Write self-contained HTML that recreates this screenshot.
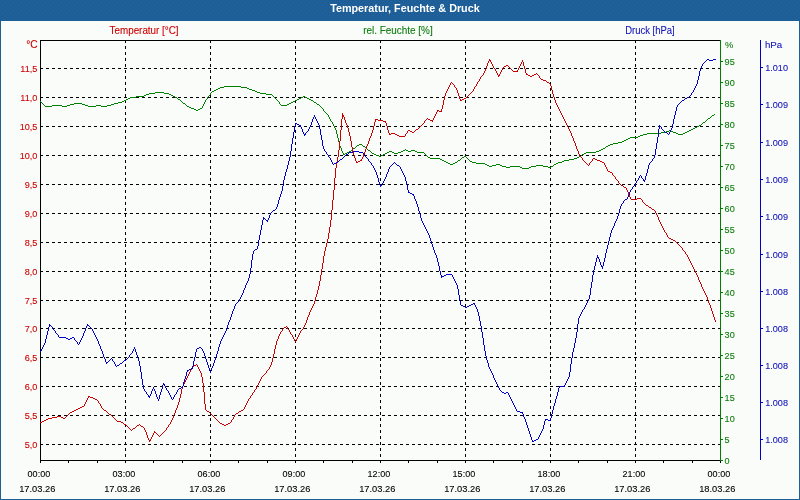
<!DOCTYPE html>
<html><head><meta charset="utf-8"><title>Temperatur, Feuchte &amp; Druck</title>
<style>html,body{margin:0;padding:0;background:#fafcfa;width:800px;height:500px;overflow:hidden}</style>
</head><body>
<svg width="800" height="500" viewBox="0 0 800 500" style="display:block">
<rect x="0" y="0" width="800" height="500" fill="#fafcfa"/>
<defs><pattern id="hp" width="4" height="4" patternUnits="userSpaceOnUse"><rect width="4" height="4" fill="#1d5e94"/><rect x="3" y="1" width="1" height="1" fill="#2663b4"/><rect x="1" y="3" width="1" height="1" fill="#2663b4"/></pattern></defs>
<g shape-rendering="crispEdges">
<rect x="0" y="0" width="800" height="21" fill="url(#hp)"/>
<rect x="0" y="21" width="1" height="479" fill="#1d5e94"/>
<rect x="799" y="21" width="1" height="479" fill="#1d5e94"/>
<rect x="0" y="499" width="800" height="1" fill="#1d5e94"/>
</g>
<g shape-rendering="crispEdges">
<line x1="40" y1="68.5" x2="720" y2="68.5" stroke="#000" stroke-width="1" stroke-dasharray="3 3"/>
<line x1="40" y1="97.5" x2="720" y2="97.5" stroke="#000" stroke-width="1" stroke-dasharray="3 3"/>
<line x1="40" y1="126.5" x2="720" y2="126.5" stroke="#000" stroke-width="1" stroke-dasharray="3 3"/>
<line x1="40" y1="155.5" x2="720" y2="155.5" stroke="#000" stroke-width="1" stroke-dasharray="3 3"/>
<line x1="40" y1="184.5" x2="720" y2="184.5" stroke="#000" stroke-width="1" stroke-dasharray="3 3"/>
<line x1="40" y1="213.5" x2="720" y2="213.5" stroke="#000" stroke-width="1" stroke-dasharray="3 3"/>
<line x1="40" y1="242.5" x2="720" y2="242.5" stroke="#000" stroke-width="1" stroke-dasharray="3 3"/>
<line x1="40" y1="271.5" x2="720" y2="271.5" stroke="#000" stroke-width="1" stroke-dasharray="3 3"/>
<line x1="40" y1="300.5" x2="720" y2="300.5" stroke="#000" stroke-width="1" stroke-dasharray="3 3"/>
<line x1="40" y1="328.5" x2="720" y2="328.5" stroke="#000" stroke-width="1" stroke-dasharray="3 3"/>
<line x1="40" y1="357.5" x2="720" y2="357.5" stroke="#000" stroke-width="1" stroke-dasharray="3 3"/>
<line x1="40" y1="386.5" x2="720" y2="386.5" stroke="#000" stroke-width="1" stroke-dasharray="3 3"/>
<line x1="40" y1="415.5" x2="720" y2="415.5" stroke="#000" stroke-width="1" stroke-dasharray="3 3"/>
<line x1="40" y1="444.5" x2="720" y2="444.5" stroke="#000" stroke-width="1" stroke-dasharray="3 3"/>
<line x1="125.5" y1="40" x2="125.5" y2="460" stroke="#000" stroke-width="1" stroke-dasharray="3 3"/>
<line x1="210.5" y1="40" x2="210.5" y2="460" stroke="#000" stroke-width="1" stroke-dasharray="3 3"/>
<line x1="295.5" y1="40" x2="295.5" y2="460" stroke="#000" stroke-width="1" stroke-dasharray="3 3"/>
<line x1="380.5" y1="40" x2="380.5" y2="460" stroke="#000" stroke-width="1" stroke-dasharray="3 3"/>
<line x1="465.5" y1="40" x2="465.5" y2="460" stroke="#000" stroke-width="1" stroke-dasharray="3 3"/>
<line x1="550.5" y1="40" x2="550.5" y2="460" stroke="#000" stroke-width="1" stroke-dasharray="3 3"/>
<line x1="635.5" y1="40" x2="635.5" y2="460" stroke="#000" stroke-width="1" stroke-dasharray="3 3"/>
<rect x="40" y="40" width="680" height="1" fill="#000"/>
<rect x="40" y="460" width="681" height="1" fill="#000"/>
<rect x="40" y="40" width="1" height="423" fill="#000"/>
<rect x="40" y="461" width="1" height="2" fill="#000"/>
<rect x="68" y="461" width="1" height="2" fill="#000"/>
<rect x="97" y="461" width="1" height="2" fill="#000"/>
<rect x="125" y="461" width="1" height="2" fill="#000"/>
<rect x="153" y="461" width="1" height="2" fill="#000"/>
<rect x="182" y="461" width="1" height="2" fill="#000"/>
<rect x="210" y="461" width="1" height="2" fill="#000"/>
<rect x="238" y="461" width="1" height="2" fill="#000"/>
<rect x="267" y="461" width="1" height="2" fill="#000"/>
<rect x="295" y="461" width="1" height="2" fill="#000"/>
<rect x="323" y="461" width="1" height="2" fill="#000"/>
<rect x="352" y="461" width="1" height="2" fill="#000"/>
<rect x="380" y="461" width="1" height="2" fill="#000"/>
<rect x="408" y="461" width="1" height="2" fill="#000"/>
<rect x="437" y="461" width="1" height="2" fill="#000"/>
<rect x="465" y="461" width="1" height="2" fill="#000"/>
<rect x="493" y="461" width="1" height="2" fill="#000"/>
<rect x="522" y="461" width="1" height="2" fill="#000"/>
<rect x="550" y="461" width="1" height="2" fill="#000"/>
<rect x="578" y="461" width="1" height="2" fill="#000"/>
<rect x="607" y="461" width="1" height="2" fill="#000"/>
<rect x="635" y="461" width="1" height="2" fill="#000"/>
<rect x="663" y="461" width="1" height="2" fill="#000"/>
<rect x="692" y="461" width="1" height="2" fill="#000"/>
<rect x="720" y="461" width="1" height="2" fill="#000"/>
<rect x="41" y="68" width="2" height="1" fill="#000"/>
<rect x="41" y="97" width="2" height="1" fill="#000"/>
<rect x="41" y="126" width="2" height="1" fill="#000"/>
<rect x="41" y="155" width="2" height="1" fill="#000"/>
<rect x="41" y="184" width="2" height="1" fill="#000"/>
<rect x="41" y="213" width="2" height="1" fill="#000"/>
<rect x="41" y="242" width="2" height="1" fill="#000"/>
<rect x="41" y="271" width="2" height="1" fill="#000"/>
<rect x="41" y="300" width="2" height="1" fill="#000"/>
<rect x="41" y="328" width="2" height="1" fill="#000"/>
<rect x="41" y="357" width="2" height="1" fill="#000"/>
<rect x="41" y="386" width="2" height="1" fill="#000"/>
<rect x="41" y="415" width="2" height="1" fill="#000"/>
<rect x="41" y="444" width="2" height="1" fill="#000"/>
<rect x="720" y="40" width="1" height="421" fill="#008000"/>
<rect x="721" y="460" width="2" height="1" fill="#008000"/>
<rect x="721" y="439" width="2" height="1" fill="#008000"/>
<rect x="721" y="418" width="2" height="1" fill="#008000"/>
<rect x="721" y="397" width="2" height="1" fill="#008000"/>
<rect x="721" y="376" width="2" height="1" fill="#008000"/>
<rect x="721" y="355" width="2" height="1" fill="#008000"/>
<rect x="721" y="334" width="2" height="1" fill="#008000"/>
<rect x="721" y="313" width="2" height="1" fill="#008000"/>
<rect x="721" y="292" width="2" height="1" fill="#008000"/>
<rect x="721" y="271" width="2" height="1" fill="#008000"/>
<rect x="721" y="250" width="2" height="1" fill="#008000"/>
<rect x="721" y="229" width="2" height="1" fill="#008000"/>
<rect x="721" y="208" width="2" height="1" fill="#008000"/>
<rect x="721" y="187" width="2" height="1" fill="#008000"/>
<rect x="721" y="166" width="2" height="1" fill="#008000"/>
<rect x="721" y="145" width="2" height="1" fill="#008000"/>
<rect x="721" y="124" width="2" height="1" fill="#008000"/>
<rect x="721" y="103" width="2" height="1" fill="#008000"/>
<rect x="721" y="82" width="2" height="1" fill="#008000"/>
<rect x="721" y="61" width="2" height="1" fill="#008000"/>
<rect x="760" y="40" width="1" height="420" fill="#0000cc"/>
<rect x="761" y="67" width="2" height="1" fill="#0000cc"/>
<rect x="761" y="104" width="2" height="1" fill="#0000cc"/>
<rect x="761" y="142" width="2" height="1" fill="#0000cc"/>
<rect x="761" y="179" width="2" height="1" fill="#0000cc"/>
<rect x="761" y="216" width="2" height="1" fill="#0000cc"/>
<rect x="761" y="254" width="2" height="1" fill="#0000cc"/>
<rect x="761" y="291" width="2" height="1" fill="#0000cc"/>
<rect x="761" y="328" width="2" height="1" fill="#0000cc"/>
<rect x="761" y="365" width="2" height="1" fill="#0000cc"/>
<rect x="761" y="402" width="2" height="1" fill="#0000cc"/>
<rect x="761" y="439" width="2" height="1" fill="#0000cc"/>
</g>
<g shape-rendering="crispEdges">
<path fill="#008000" d="M224 86h17v1h-17zM220 87h4v1h-4zM241 87h6v1h-6zM218 88h2v1h-2zM247 88h2v1h-2zM216 89h2v1h-2zM249 89h3v1h-3zM214 90h2v1h-2zM252 90h3v1h-3zM212 91h2v1h-2zM255 91h2v1h-2zM155 92h9v1h-9zM211 92h1v1h-1zM257 92h3v1h-3zM149 93h6v1h-6zM164 93h5v1h-5zM210 93h1v1h-1zM260 93h6v1h-6zM146 94h3v1h-3zM169 94h2v1h-2zM210 94h1v1h-1zM266 94h6v1h-6zM144 95h2v1h-2zM171 95h2v1h-2zM209 95h1v1h-1zM272 95h1v1h-1zM136 96h8v1h-8zM173 96h2v1h-2zM208 96h1v1h-1zM273 96h1v1h-1zM303 96h2v1h-2zM130 97h6v1h-6zM175 97h2v1h-2zM207 97h1v1h-1zM274 97h1v1h-1zM301 97h2v1h-2zM305 97h2v1h-2zM128 98h2v1h-2zM177 98h1v1h-1zM207 98h1v1h-1zM275 98h1v1h-1zM299 98h2v1h-2zM307 98h2v1h-2zM126 99h2v1h-2zM178 99h2v1h-2zM206 99h1v1h-1zM276 99h1v1h-1zM297 99h2v1h-2zM309 99h2v1h-2zM124 100h2v1h-2zM180 100h1v1h-1zM205 100h1v1h-1zM277 100h1v1h-1zM295 100h2v1h-2zM311 100h2v1h-2zM40 101h1v1h-1zM122 101h2v1h-2zM181 101h1v1h-1zM205 101h1v1h-1zM278 101h1v1h-1zM293 101h2v1h-2zM313 101h1v1h-1zM41 102h1v1h-1zM118 102h4v1h-4zM182 102h1v1h-1zM204 102h1v1h-1zM279 102h1v1h-1zM291 102h2v1h-2zM314 102h2v1h-2zM42 103h1v1h-1zM74 103h8v1h-8zM114 103h4v1h-4zM183 103h2v1h-2zM204 103h1v1h-1zM279 103h1v1h-1zM289 103h2v1h-2zM316 103h1v1h-1zM43 104h1v1h-1zM70 104h4v1h-4zM82 104h3v1h-3zM111 104h3v1h-3zM185 104h1v1h-1zM203 104h1v1h-1zM280 104h1v1h-1zM287 104h2v1h-2zM317 104h2v1h-2zM44 105h1v1h-1zM52 105h10v1h-10zM67 105h3v1h-3zM85 105h3v1h-3zM96 105h5v1h-5zM107 105h4v1h-4zM186 105h1v1h-1zM203 105h1v1h-1zM281 105h6v1h-6zM319 105h1v1h-1zM45 106h7v1h-7zM62 106h5v1h-5zM88 106h8v1h-8zM101 106h6v1h-6zM187 106h2v1h-2zM202 106h1v1h-1zM320 106h1v1h-1zM189 107h2v1h-2zM202 107h1v1h-1zM321 107h1v1h-1zM191 108h3v1h-3zM200 108h2v1h-2zM322 108h1v1h-1zM194 109h2v1h-2zM198 109h2v1h-2zM323 109h1v1h-1zM196 110h2v1h-2zM323 110h1v1h-1zM324 111h1v1h-1zM325 112h1v1h-1zM326 113h1v1h-1zM327 114h1v1h-1zM714 114h1v1h-1zM328 115h1v1h-1zM712 115h2v1h-2zM328 116h1v1h-1zM711 116h1v1h-1zM329 117h1v1h-1zM710 117h1v1h-1zM329 118h1v1h-1zM708 118h2v1h-2zM330 119h1v1h-1zM707 119h1v1h-1zM330 120h1v1h-1zM706 120h1v1h-1zM331 121h1v1h-1zM705 121h1v1h-1zM332 122h1v1h-1zM703 122h2v1h-2zM332 123h1v1h-1zM702 123h1v1h-1zM333 124h1v1h-1zM701 124h1v1h-1zM333 125h1v1h-1zM699 125h2v1h-2zM334 126h1v1h-1zM697 126h2v1h-2zM334 127h1v1h-1zM695 127h2v1h-2zM335 128h1v1h-1zM693 128h2v1h-2zM335 129h1v1h-1zM691 129h2v1h-2zM336 130h1v1h-1zM669 130h2v1h-2zM689 130h2v1h-2zM336 131h1v1h-1zM666 131h3v1h-3zM671 131h2v1h-2zM687 131h2v1h-2zM336 132h1v1h-1zM661 132h5v1h-5zM673 132h3v1h-3zM685 132h2v1h-2zM336 133h1v1h-1zM647 133h14v1h-14zM676 133h2v1h-2zM683 133h2v1h-2zM337 134h1v1h-1zM643 134h4v1h-4zM678 134h5v1h-5zM337 135h1v1h-1zM640 135h3v1h-3zM337 136h1v1h-1zM638 136h2v1h-2zM337 137h1v1h-1zM630 137h8v1h-8zM338 138h1v1h-1zM628 138h2v1h-2zM338 139h1v1h-1zM626 139h2v1h-2zM338 140h1v1h-1zM624 140h2v1h-2zM338 141h1v1h-1zM622 141h2v1h-2zM339 142h1v1h-1zM618 142h4v1h-4zM339 143h1v1h-1zM613 143h5v1h-5zM339 144h1v1h-1zM359 144h3v1h-3zM610 144h3v1h-3zM339 145h1v1h-1zM357 145h2v1h-2zM362 145h1v1h-1zM608 145h2v1h-2zM340 146h1v1h-1zM356 146h1v1h-1zM363 146h2v1h-2zM606 146h2v1h-2zM340 147h1v1h-1zM355 147h1v1h-1zM365 147h1v1h-1zM605 147h1v1h-1zM341 148h1v1h-1zM353 148h2v1h-2zM366 148h1v1h-1zM603 148h2v1h-2zM341 149h1v1h-1zM352 149h1v1h-1zM367 149h1v1h-1zM405 149h1v1h-1zM601 149h2v1h-2zM341 150h1v1h-1zM351 150h1v1h-1zM368 150h2v1h-2zM403 150h2v1h-2zM406 150h2v1h-2zM411 150h4v1h-4zM599 150h2v1h-2zM342 151h1v1h-1zM349 151h2v1h-2zM370 151h1v1h-1zM389 151h3v1h-3zM401 151h2v1h-2zM408 151h3v1h-3zM415 151h2v1h-2zM596 151h3v1h-3zM342 152h1v1h-1zM347 152h2v1h-2zM371 152h1v1h-1zM387 152h2v1h-2zM392 152h2v1h-2zM398 152h3v1h-3zM417 152h7v1h-7zM586 152h10v1h-10zM343 153h1v1h-1zM345 153h2v1h-2zM372 153h2v1h-2zM385 153h2v1h-2zM394 153h4v1h-4zM424 153h1v1h-1zM584 153h2v1h-2zM343 154h2v1h-2zM374 154h2v1h-2zM383 154h2v1h-2zM425 154h1v1h-1zM582 154h2v1h-2zM376 155h3v1h-3zM381 155h2v1h-2zM426 155h1v1h-1zM581 155h1v1h-1zM379 156h2v1h-2zM427 156h1v1h-1zM464 156h2v1h-2zM579 156h2v1h-2zM428 157h2v1h-2zM462 157h2v1h-2zM466 157h1v1h-1zM577 157h2v1h-2zM430 158h10v1h-10zM461 158h1v1h-1zM467 158h1v1h-1zM574 158h3v1h-3zM440 159h2v1h-2zM460 159h1v1h-1zM468 159h1v1h-1zM569 159h5v1h-5zM442 160h2v1h-2zM458 160h2v1h-2zM469 160h1v1h-1zM564 160h5v1h-5zM444 161h2v1h-2zM457 161h1v1h-1zM470 161h2v1h-2zM562 161h2v1h-2zM446 162h2v1h-2zM455 162h2v1h-2zM472 162h4v1h-4zM558 162h4v1h-4zM448 163h2v1h-2zM453 163h2v1h-2zM476 163h9v1h-9zM556 163h2v1h-2zM450 164h3v1h-3zM485 164h2v1h-2zM496 164h4v1h-4zM554 164h2v1h-2zM487 165h2v1h-2zM492 165h4v1h-4zM500 165h2v1h-2zM536 165h7v1h-7zM553 165h1v1h-1zM489 166h3v1h-3zM502 166h4v1h-4zM510 166h10v1h-10zM531 166h5v1h-5zM543 166h5v1h-5zM551 166h2v1h-2zM506 167h4v1h-4zM520 167h2v1h-2zM529 167h2v1h-2zM548 167h3v1h-3zM522 168h7v1h-7z"/>
<path fill="#cc0000" d="M489 59h1v1h-1zM489 60h2v1h-2zM522 60h1v1h-1zM488 61h1v1h-1zM490 61h1v1h-1zM522 61h1v1h-1zM488 62h1v1h-1zM491 62h1v1h-1zM521 62h1v1h-1zM523 62h1v1h-1zM487 63h1v1h-1zM491 63h1v1h-1zM521 63h1v1h-1zM523 63h1v1h-1zM487 64h1v1h-1zM492 64h1v1h-1zM520 64h1v1h-1zM523 64h1v1h-1zM487 65h1v1h-1zM492 65h1v1h-1zM506 65h2v1h-2zM520 65h1v1h-1zM523 65h1v1h-1zM486 66h1v1h-1zM493 66h1v1h-1zM504 66h2v1h-2zM508 66h1v1h-1zM519 66h1v1h-1zM524 66h1v1h-1zM486 67h1v1h-1zM493 67h1v1h-1zM503 67h1v1h-1zM509 67h1v1h-1zM519 67h1v1h-1zM524 67h1v1h-1zM486 68h1v1h-1zM494 68h1v1h-1zM502 68h1v1h-1zM510 68h1v1h-1zM518 68h1v1h-1zM524 68h1v1h-1zM485 69h1v1h-1zM495 69h1v1h-1zM502 69h1v1h-1zM511 69h1v1h-1zM518 69h1v1h-1zM525 69h1v1h-1zM485 70h1v1h-1zM495 70h1v1h-1zM501 70h1v1h-1zM512 70h1v1h-1zM517 70h1v1h-1zM525 70h1v1h-1zM484 71h1v1h-1zM496 71h1v1h-1zM501 71h1v1h-1zM513 71h5v1h-5zM525 71h1v1h-1zM484 72h1v1h-1zM496 72h1v1h-1zM500 72h1v1h-1zM525 72h1v1h-1zM483 73h1v1h-1zM497 73h1v1h-1zM500 73h1v1h-1zM526 73h1v1h-1zM536 73h1v1h-1zM483 74h1v1h-1zM497 74h1v1h-1zM499 74h1v1h-1zM526 74h2v1h-2zM534 74h2v1h-2zM537 74h1v1h-1zM482 75h1v1h-1zM498 75h2v1h-2zM528 75h2v1h-2zM532 75h2v1h-2zM538 75h1v1h-1zM481 76h1v1h-1zM498 76h1v1h-1zM530 76h2v1h-2zM539 76h1v1h-1zM480 77h1v1h-1zM539 77h1v1h-1zM480 78h1v1h-1zM540 78h1v1h-1zM479 79h1v1h-1zM541 79h2v1h-2zM479 80h1v1h-1zM543 80h3v1h-3zM478 81h1v1h-1zM546 81h1v1h-1zM451 82h1v1h-1zM477 82h1v1h-1zM547 82h2v1h-2zM450 83h1v1h-1zM452 83h1v1h-1zM477 83h1v1h-1zM549 83h1v1h-1zM450 84h1v1h-1zM453 84h1v1h-1zM476 84h1v1h-1zM550 84h1v1h-1zM449 85h1v1h-1zM454 85h1v1h-1zM476 85h1v1h-1zM550 85h1v1h-1zM449 86h1v1h-1zM454 86h1v1h-1zM475 86h1v1h-1zM551 86h1v1h-1zM448 87h1v1h-1zM455 87h1v1h-1zM474 87h1v1h-1zM551 87h1v1h-1zM448 88h1v1h-1zM456 88h1v1h-1zM474 88h1v1h-1zM551 88h1v1h-1zM447 89h1v1h-1zM456 89h1v1h-1zM473 89h1v1h-1zM551 89h1v1h-1zM447 90h1v1h-1zM457 90h1v1h-1zM473 90h1v1h-1zM552 90h1v1h-1zM446 91h1v1h-1zM457 91h1v1h-1zM472 91h1v1h-1zM552 91h1v1h-1zM446 92h1v1h-1zM457 92h1v1h-1zM471 92h1v1h-1zM552 92h1v1h-1zM445 93h1v1h-1zM458 93h1v1h-1zM470 93h1v1h-1zM552 93h1v1h-1zM445 94h1v1h-1zM458 94h1v1h-1zM469 94h1v1h-1zM553 94h1v1h-1zM445 95h1v1h-1zM458 95h1v1h-1zM468 95h1v1h-1zM553 95h1v1h-1zM444 96h1v1h-1zM459 96h1v1h-1zM467 96h1v1h-1zM553 96h1v1h-1zM444 97h1v1h-1zM459 97h1v1h-1zM466 97h1v1h-1zM554 97h1v1h-1zM444 98h1v1h-1zM459 98h1v1h-1zM464 98h2v1h-2zM554 98h1v1h-1zM444 99h1v1h-1zM460 99h1v1h-1zM462 99h2v1h-2zM554 99h1v1h-1zM443 100h1v1h-1zM460 100h2v1h-2zM555 100h1v1h-1zM443 101h1v1h-1zM555 101h1v1h-1zM443 102h1v1h-1zM555 102h1v1h-1zM443 103h1v1h-1zM556 103h1v1h-1zM443 104h1v1h-1zM556 104h1v1h-1zM442 105h1v1h-1zM557 105h1v1h-1zM442 106h1v1h-1zM557 106h1v1h-1zM442 107h1v1h-1zM558 107h1v1h-1zM442 108h1v1h-1zM558 108h1v1h-1zM441 109h1v1h-1zM559 109h1v1h-1zM437 110h2v1h-2zM441 110h1v1h-1zM559 110h1v1h-1zM437 111h1v1h-1zM439 111h3v1h-3zM560 111h1v1h-1zM436 112h1v1h-1zM560 112h1v1h-1zM342 113h1v1h-1zM436 113h1v1h-1zM561 113h1v1h-1zM342 114h1v1h-1zM435 114h1v1h-1zM561 114h1v1h-1zM342 115h2v1h-2zM435 115h1v1h-1zM562 115h1v1h-1zM342 116h2v1h-2zM434 116h1v1h-1zM562 116h1v1h-1zM342 117h1v1h-1zM344 117h1v1h-1zM434 117h1v1h-1zM563 117h1v1h-1zM342 118h1v1h-1zM344 118h1v1h-1zM427 118h1v1h-1zM433 118h1v1h-1zM563 118h1v1h-1zM341 119h1v1h-1zM344 119h1v1h-1zM375 119h3v1h-3zM426 119h1v1h-1zM428 119h2v1h-2zM433 119h1v1h-1zM564 119h1v1h-1zM341 120h1v1h-1zM345 120h1v1h-1zM375 120h1v1h-1zM378 120h5v1h-5zM425 120h1v1h-1zM430 120h3v1h-3zM564 120h1v1h-1zM341 121h1v1h-1zM345 121h1v1h-1zM375 121h1v1h-1zM383 121h3v1h-3zM424 121h1v1h-1zM432 121h1v1h-1zM565 121h1v1h-1zM341 122h1v1h-1zM345 122h1v1h-1zM374 122h1v1h-1zM385 122h1v1h-1zM424 122h1v1h-1zM565 122h1v1h-1zM341 123h1v1h-1zM346 123h1v1h-1zM374 123h1v1h-1zM386 123h1v1h-1zM423 123h1v1h-1zM566 123h1v1h-1zM341 124h1v1h-1zM346 124h1v1h-1zM374 124h1v1h-1zM386 124h1v1h-1zM422 124h1v1h-1zM566 124h1v1h-1zM341 125h1v1h-1zM347 125h1v1h-1zM374 125h1v1h-1zM386 125h1v1h-1zM421 125h1v1h-1zM567 125h1v1h-1zM341 126h1v1h-1zM347 126h1v1h-1zM373 126h1v1h-1zM387 126h1v1h-1zM420 126h1v1h-1zM567 126h1v1h-1zM341 127h1v1h-1zM347 127h1v1h-1zM373 127h1v1h-1zM387 127h1v1h-1zM419 127h1v1h-1zM568 127h1v1h-1zM341 128h1v1h-1zM348 128h1v1h-1zM373 128h1v1h-1zM387 128h1v1h-1zM418 128h1v1h-1zM568 128h1v1h-1zM341 129h1v1h-1zM348 129h1v1h-1zM373 129h1v1h-1zM387 129h1v1h-1zM416 129h2v1h-2zM569 129h1v1h-1zM340 130h1v1h-1zM348 130h1v1h-1zM372 130h1v1h-1zM388 130h1v1h-1zM408 130h2v1h-2zM415 130h1v1h-1zM569 130h1v1h-1zM340 131h1v1h-1zM348 131h1v1h-1zM372 131h1v1h-1zM388 131h1v1h-1zM407 131h1v1h-1zM410 131h2v1h-2zM414 131h1v1h-1zM570 131h1v1h-1zM340 132h1v1h-1zM349 132h1v1h-1zM372 132h1v1h-1zM388 132h1v1h-1zM407 132h1v1h-1zM412 132h2v1h-2zM570 132h1v1h-1zM340 133h1v1h-1zM349 133h1v1h-1zM371 133h1v1h-1zM389 133h1v1h-1zM391 133h4v1h-4zM406 133h1v1h-1zM571 133h1v1h-1zM340 134h1v1h-1zM349 134h1v1h-1zM371 134h1v1h-1zM389 134h2v1h-2zM395 134h2v1h-2zM405 134h1v1h-1zM571 134h1v1h-1zM340 135h1v1h-1zM349 135h1v1h-1zM371 135h1v1h-1zM397 135h2v1h-2zM405 135h1v1h-1zM571 135h1v1h-1zM340 136h1v1h-1zM350 136h1v1h-1zM370 136h1v1h-1zM399 136h6v1h-6zM572 136h1v1h-1zM340 137h1v1h-1zM350 137h1v1h-1zM370 137h1v1h-1zM572 137h1v1h-1zM340 138h1v1h-1zM350 138h1v1h-1zM369 138h1v1h-1zM573 138h1v1h-1zM340 139h1v1h-1zM350 139h1v1h-1zM369 139h1v1h-1zM573 139h1v1h-1zM340 140h1v1h-1zM350 140h1v1h-1zM369 140h1v1h-1zM573 140h1v1h-1zM339 141h1v1h-1zM351 141h1v1h-1zM368 141h1v1h-1zM574 141h1v1h-1zM339 142h1v1h-1zM351 142h1v1h-1zM368 142h1v1h-1zM574 142h1v1h-1zM339 143h1v1h-1zM351 143h1v1h-1zM368 143h1v1h-1zM575 143h1v1h-1zM339 144h1v1h-1zM351 144h1v1h-1zM367 144h1v1h-1zM575 144h1v1h-1zM339 145h1v1h-1zM351 145h1v1h-1zM367 145h1v1h-1zM575 145h1v1h-1zM339 146h1v1h-1zM351 146h1v1h-1zM366 146h1v1h-1zM576 146h1v1h-1zM339 147h1v1h-1zM352 147h1v1h-1zM366 147h1v1h-1zM576 147h1v1h-1zM339 148h1v1h-1zM352 148h1v1h-1zM366 148h1v1h-1zM576 148h1v1h-1zM339 149h1v1h-1zM352 149h1v1h-1zM365 149h1v1h-1zM577 149h1v1h-1zM338 150h1v1h-1zM352 150h1v1h-1zM365 150h1v1h-1zM577 150h1v1h-1zM338 151h1v1h-1zM352 151h1v1h-1zM365 151h1v1h-1zM578 151h1v1h-1zM338 152h1v1h-1zM353 152h1v1h-1zM364 152h1v1h-1zM578 152h1v1h-1zM338 153h1v1h-1zM353 153h1v1h-1zM364 153h1v1h-1zM578 153h1v1h-1zM338 154h1v1h-1zM353 154h1v1h-1zM363 154h1v1h-1zM579 154h1v1h-1zM338 155h1v1h-1zM354 155h1v1h-1zM363 155h1v1h-1zM579 155h1v1h-1zM338 156h1v1h-1zM354 156h1v1h-1zM363 156h1v1h-1zM580 156h1v1h-1zM337 157h1v1h-1zM354 157h1v1h-1zM362 157h1v1h-1zM581 157h1v1h-1zM337 158h1v1h-1zM355 158h1v1h-1zM362 158h1v1h-1zM582 158h1v1h-1zM593 158h2v1h-2zM337 159h1v1h-1zM355 159h1v1h-1zM361 159h1v1h-1zM582 159h1v1h-1zM592 159h1v1h-1zM595 159h2v1h-2zM337 160h1v1h-1zM355 160h1v1h-1zM360 160h2v1h-2zM583 160h1v1h-1zM592 160h1v1h-1zM597 160h3v1h-3zM337 161h1v1h-1zM356 161h1v1h-1zM358 161h2v1h-2zM584 161h1v1h-1zM591 161h1v1h-1zM600 161h2v1h-2zM337 162h1v1h-1zM356 162h2v1h-2zM585 162h1v1h-1zM590 162h1v1h-1zM602 162h2v1h-2zM336 163h1v1h-1zM586 163h1v1h-1zM589 163h1v1h-1zM604 163h1v1h-1zM336 164h1v1h-1zM587 164h1v1h-1zM589 164h1v1h-1zM604 164h1v1h-1zM336 165h1v1h-1zM588 165h1v1h-1zM605 165h1v1h-1zM336 166h1v1h-1zM605 166h1v1h-1zM336 167h1v1h-1zM606 167h1v1h-1zM335 168h1v1h-1zM606 168h1v1h-1zM335 169h1v1h-1zM607 169h1v1h-1zM335 170h1v1h-1zM607 170h1v1h-1zM335 171h1v1h-1zM608 171h2v1h-2zM335 172h1v1h-1zM610 172h2v1h-2zM335 173h1v1h-1zM612 173h1v1h-1zM335 174h1v1h-1zM612 174h1v1h-1zM335 175h1v1h-1zM613 175h1v1h-1zM335 176h1v1h-1zM614 176h1v1h-1zM335 177h1v1h-1zM615 177h1v1h-1zM334 178h1v1h-1zM615 178h1v1h-1zM334 179h1v1h-1zM616 179h1v1h-1zM334 180h1v1h-1zM617 180h1v1h-1zM334 181h1v1h-1zM618 181h1v1h-1zM334 182h1v1h-1zM618 182h1v1h-1zM334 183h1v1h-1zM619 183h1v1h-1zM334 184h1v1h-1zM620 184h1v1h-1zM334 185h1v1h-1zM621 185h2v1h-2zM334 186h1v1h-1zM623 186h1v1h-1zM334 187h1v1h-1zM624 187h2v1h-2zM334 188h1v1h-1zM626 188h1v1h-1zM334 189h1v1h-1zM626 189h1v1h-1zM333 190h1v1h-1zM627 190h1v1h-1zM333 191h1v1h-1zM627 191h1v1h-1zM333 192h1v1h-1zM628 192h1v1h-1zM333 193h1v1h-1zM628 193h1v1h-1zM333 194h1v1h-1zM628 194h1v1h-1zM333 195h1v1h-1zM629 195h1v1h-1zM333 196h1v1h-1zM629 196h1v1h-1zM333 197h1v1h-1zM630 197h1v1h-1zM333 198h1v1h-1zM630 198h1v1h-1zM637 198h4v1h-4zM333 199h1v1h-1zM631 199h6v1h-6zM641 199h1v1h-1zM332 200h1v1h-1zM642 200h1v1h-1zM332 201h1v1h-1zM642 201h1v1h-1zM332 202h1v1h-1zM643 202h1v1h-1zM332 203h1v1h-1zM644 203h1v1h-1zM332 204h1v1h-1zM645 204h1v1h-1zM332 205h1v1h-1zM646 205h2v1h-2zM332 206h1v1h-1zM648 206h1v1h-1zM332 207h1v1h-1zM649 207h2v1h-2zM332 208h1v1h-1zM651 208h1v1h-1zM332 209h1v1h-1zM652 209h2v1h-2zM331 210h1v1h-1zM654 210h1v1h-1zM331 211h1v1h-1zM655 211h1v1h-1zM331 212h1v1h-1zM655 212h1v1h-1zM331 213h1v1h-1zM656 213h1v1h-1zM331 214h1v1h-1zM656 214h1v1h-1zM331 215h1v1h-1zM657 215h1v1h-1zM331 216h1v1h-1zM657 216h1v1h-1zM331 217h1v1h-1zM658 217h1v1h-1zM331 218h1v1h-1zM658 218h1v1h-1zM331 219h1v1h-1zM658 219h1v1h-1zM330 220h1v1h-1zM659 220h1v1h-1zM330 221h1v1h-1zM659 221h1v1h-1zM330 222h1v1h-1zM660 222h1v1h-1zM330 223h1v1h-1zM660 223h1v1h-1zM330 224h1v1h-1zM661 224h1v1h-1zM330 225h1v1h-1zM661 225h1v1h-1zM330 226h1v1h-1zM662 226h1v1h-1zM329 227h1v1h-1zM662 227h1v1h-1zM329 228h1v1h-1zM663 228h1v1h-1zM329 229h1v1h-1zM663 229h1v1h-1zM329 230h1v1h-1zM664 230h1v1h-1zM329 231h1v1h-1zM664 231h1v1h-1zM329 232h1v1h-1zM665 232h1v1h-1zM328 233h1v1h-1zM666 233h1v1h-1zM328 234h1v1h-1zM666 234h1v1h-1zM328 235h1v1h-1zM667 235h1v1h-1zM328 236h1v1h-1zM667 236h1v1h-1zM328 237h1v1h-1zM668 237h1v1h-1zM328 238h1v1h-1zM669 238h2v1h-2zM327 239h1v1h-1zM671 239h2v1h-2zM327 240h1v1h-1zM673 240h2v1h-2zM327 241h1v1h-1zM675 241h1v1h-1zM327 242h1v1h-1zM676 242h1v1h-1zM326 243h1v1h-1zM677 243h1v1h-1zM326 244h1v1h-1zM678 244h1v1h-1zM326 245h1v1h-1zM679 245h1v1h-1zM326 246h1v1h-1zM680 246h1v1h-1zM325 247h1v1h-1zM681 247h1v1h-1zM325 248h1v1h-1zM682 248h1v1h-1zM325 249h1v1h-1zM682 249h1v1h-1zM325 250h1v1h-1zM683 250h1v1h-1zM324 251h1v1h-1zM684 251h1v1h-1zM324 252h1v1h-1zM685 252h1v1h-1zM324 253h1v1h-1zM685 253h1v1h-1zM324 254h1v1h-1zM686 254h1v1h-1zM324 255h1v1h-1zM687 255h1v1h-1zM323 256h1v1h-1zM687 256h1v1h-1zM323 257h1v1h-1zM688 257h1v1h-1zM323 258h1v1h-1zM688 258h1v1h-1zM323 259h1v1h-1zM689 259h1v1h-1zM323 260h1v1h-1zM689 260h1v1h-1zM323 261h1v1h-1zM690 261h1v1h-1zM323 262h1v1h-1zM690 262h1v1h-1zM322 263h1v1h-1zM691 263h1v1h-1zM322 264h1v1h-1zM691 264h1v1h-1zM322 265h1v1h-1zM692 265h1v1h-1zM322 266h1v1h-1zM692 266h1v1h-1zM322 267h1v1h-1zM693 267h1v1h-1zM322 268h1v1h-1zM693 268h1v1h-1zM321 269h1v1h-1zM694 269h1v1h-1zM321 270h1v1h-1zM694 270h1v1h-1zM321 271h1v1h-1zM695 271h1v1h-1zM321 272h1v1h-1zM695 272h1v1h-1zM321 273h1v1h-1zM696 273h1v1h-1zM321 274h1v1h-1zM696 274h1v1h-1zM320 275h1v1h-1zM697 275h1v1h-1zM320 276h1v1h-1zM697 276h1v1h-1zM320 277h1v1h-1zM698 277h1v1h-1zM320 278h1v1h-1zM698 278h1v1h-1zM320 279h1v1h-1zM698 279h1v1h-1zM320 280h1v1h-1zM699 280h1v1h-1zM319 281h1v1h-1zM699 281h1v1h-1zM319 282h1v1h-1zM700 282h1v1h-1zM319 283h1v1h-1zM700 283h1v1h-1zM319 284h1v1h-1zM701 284h1v1h-1zM319 285h1v1h-1zM701 285h1v1h-1zM318 286h1v1h-1zM701 286h1v1h-1zM318 287h1v1h-1zM702 287h1v1h-1zM318 288h1v1h-1zM702 288h1v1h-1zM318 289h1v1h-1zM703 289h1v1h-1zM317 290h1v1h-1zM703 290h1v1h-1zM317 291h1v1h-1zM704 291h1v1h-1zM317 292h1v1h-1zM704 292h1v1h-1zM317 293h1v1h-1zM705 293h1v1h-1zM316 294h1v1h-1zM705 294h1v1h-1zM316 295h1v1h-1zM706 295h1v1h-1zM316 296h1v1h-1zM706 296h1v1h-1zM315 297h1v1h-1zM707 297h1v1h-1zM315 298h1v1h-1zM707 298h1v1h-1zM315 299h1v1h-1zM707 299h1v1h-1zM315 300h1v1h-1zM708 300h1v1h-1zM314 301h1v1h-1zM708 301h1v1h-1zM314 302h1v1h-1zM708 302h1v1h-1zM314 303h1v1h-1zM709 303h1v1h-1zM313 304h1v1h-1zM709 304h1v1h-1zM313 305h1v1h-1zM710 305h1v1h-1zM312 306h1v1h-1zM710 306h1v1h-1zM312 307h1v1h-1zM710 307h1v1h-1zM311 308h1v1h-1zM711 308h1v1h-1zM311 309h1v1h-1zM711 309h1v1h-1zM310 310h1v1h-1zM711 310h1v1h-1zM310 311h1v1h-1zM712 311h1v1h-1zM309 312h1v1h-1zM712 312h1v1h-1zM309 313h1v1h-1zM712 313h1v1h-1zM309 314h1v1h-1zM713 314h1v1h-1zM308 315h1v1h-1zM713 315h1v1h-1zM308 316h1v1h-1zM713 316h1v1h-1zM307 317h1v1h-1zM714 317h1v1h-1zM307 318h1v1h-1zM714 318h1v1h-1zM307 319h1v1h-1zM714 319h1v1h-1zM306 320h1v1h-1zM715 320h1v1h-1zM306 321h1v1h-1zM715 321h1v1h-1zM306 322h1v1h-1zM305 323h1v1h-1zM305 324h1v1h-1zM304 325h1v1h-1zM286 326h1v1h-1zM304 326h1v1h-1zM284 327h2v1h-2zM287 327h1v1h-1zM303 327h1v1h-1zM283 328h1v1h-1zM287 328h1v1h-1zM303 328h1v1h-1zM282 329h1v1h-1zM288 329h1v1h-1zM302 329h1v1h-1zM282 330h1v1h-1zM289 330h1v1h-1zM301 330h1v1h-1zM281 331h1v1h-1zM289 331h1v1h-1zM300 331h1v1h-1zM280 332h1v1h-1zM290 332h1v1h-1zM300 332h1v1h-1zM280 333h1v1h-1zM290 333h1v1h-1zM299 333h1v1h-1zM279 334h1v1h-1zM291 334h1v1h-1zM299 334h1v1h-1zM279 335h1v1h-1zM292 335h1v1h-1zM298 335h1v1h-1zM278 336h1v1h-1zM292 336h1v1h-1zM298 336h1v1h-1zM278 337h1v1h-1zM293 337h1v1h-1zM297 337h1v1h-1zM278 338h1v1h-1zM293 338h1v1h-1zM297 338h1v1h-1zM277 339h1v1h-1zM294 339h1v1h-1zM296 339h1v1h-1zM277 340h1v1h-1zM294 340h1v1h-1zM296 340h1v1h-1zM276 341h1v1h-1zM295 341h1v1h-1zM276 342h1v1h-1zM276 343h1v1h-1zM276 344h1v1h-1zM275 345h1v1h-1zM275 346h1v1h-1zM275 347h1v1h-1zM275 348h1v1h-1zM274 349h1v1h-1zM274 350h1v1h-1zM274 351h1v1h-1zM274 352h1v1h-1zM274 353h1v1h-1zM273 354h1v1h-1zM273 355h1v1h-1zM273 356h1v1h-1zM273 357h1v1h-1zM272 358h1v1h-1zM272 359h1v1h-1zM272 360h1v1h-1zM272 361h1v1h-1zM271 362h1v1h-1zM271 363h1v1h-1zM196 364h1v1h-1zM271 364h1v1h-1zM194 365h2v1h-2zM197 365h1v1h-1zM270 365h1v1h-1zM193 366h1v1h-1zM197 366h1v1h-1zM270 366h1v1h-1zM192 367h1v1h-1zM198 367h1v1h-1zM269 367h1v1h-1zM191 368h1v1h-1zM198 368h1v1h-1zM269 368h1v1h-1zM191 369h1v1h-1zM199 369h1v1h-1zM268 369h1v1h-1zM190 370h1v1h-1zM199 370h1v1h-1zM267 370h1v1h-1zM190 371h1v1h-1zM200 371h1v1h-1zM266 371h1v1h-1zM189 372h1v1h-1zM200 372h1v1h-1zM266 372h1v1h-1zM189 373h1v1h-1zM201 373h1v1h-1zM265 373h1v1h-1zM188 374h1v1h-1zM201 374h1v1h-1zM264 374h1v1h-1zM188 375h1v1h-1zM201 375h1v1h-1zM263 375h1v1h-1zM187 376h1v1h-1zM201 376h1v1h-1zM262 376h1v1h-1zM187 377h1v1h-1zM202 377h1v1h-1zM261 377h1v1h-1zM186 378h1v1h-1zM202 378h1v1h-1zM261 378h1v1h-1zM186 379h1v1h-1zM202 379h1v1h-1zM260 379h1v1h-1zM185 380h1v1h-1zM202 380h1v1h-1zM260 380h1v1h-1zM185 381h1v1h-1zM202 381h1v1h-1zM259 381h1v1h-1zM184 382h1v1h-1zM202 382h1v1h-1zM259 382h1v1h-1zM184 383h1v1h-1zM203 383h1v1h-1zM258 383h1v1h-1zM183 384h1v1h-1zM203 384h1v1h-1zM258 384h1v1h-1zM183 385h1v1h-1zM203 385h1v1h-1zM257 385h1v1h-1zM182 386h1v1h-1zM203 386h1v1h-1zM257 386h1v1h-1zM182 387h1v1h-1zM203 387h1v1h-1zM256 387h1v1h-1zM182 388h1v1h-1zM203 388h1v1h-1zM256 388h1v1h-1zM181 389h1v1h-1zM203 389h1v1h-1zM255 389h1v1h-1zM181 390h1v1h-1zM203 390h1v1h-1zM254 390h1v1h-1zM181 391h1v1h-1zM203 391h1v1h-1zM254 391h1v1h-1zM181 392h1v1h-1zM204 392h1v1h-1zM253 392h1v1h-1zM181 393h1v1h-1zM204 393h1v1h-1zM252 393h1v1h-1zM180 394h1v1h-1zM204 394h1v1h-1zM252 394h1v1h-1zM180 395h1v1h-1zM204 395h1v1h-1zM251 395h1v1h-1zM88 396h2v1h-2zM180 396h1v1h-1zM204 396h1v1h-1zM250 396h1v1h-1zM88 397h1v1h-1zM90 397h3v1h-3zM180 397h1v1h-1zM204 397h1v1h-1zM250 397h1v1h-1zM87 398h1v1h-1zM93 398h2v1h-2zM179 398h1v1h-1zM204 398h1v1h-1zM249 398h1v1h-1zM87 399h1v1h-1zM95 399h2v1h-2zM179 399h1v1h-1zM204 399h1v1h-1zM248 399h1v1h-1zM86 400h1v1h-1zM97 400h1v1h-1zM179 400h1v1h-1zM204 400h1v1h-1zM248 400h1v1h-1zM86 401h1v1h-1zM98 401h1v1h-1zM179 401h1v1h-1zM204 401h1v1h-1zM247 401h1v1h-1zM85 402h1v1h-1zM98 402h1v1h-1zM178 402h1v1h-1zM204 402h1v1h-1zM247 402h1v1h-1zM85 403h1v1h-1zM99 403h1v1h-1zM178 403h1v1h-1zM204 403h1v1h-1zM246 403h1v1h-1zM84 404h1v1h-1zM100 404h1v1h-1zM178 404h1v1h-1zM205 404h1v1h-1zM246 404h1v1h-1zM84 405h1v1h-1zM100 405h1v1h-1zM177 405h1v1h-1zM205 405h1v1h-1zM245 405h1v1h-1zM82 406h2v1h-2zM101 406h1v1h-1zM177 406h1v1h-1zM205 406h1v1h-1zM245 406h1v1h-1zM80 407h2v1h-2zM101 407h1v1h-1zM177 407h1v1h-1zM205 407h1v1h-1zM244 407h1v1h-1zM78 408h2v1h-2zM102 408h1v1h-1zM176 408h1v1h-1zM205 408h1v1h-1zM244 408h1v1h-1zM76 409h2v1h-2zM103 409h1v1h-1zM176 409h1v1h-1zM205 409h1v1h-1zM243 409h1v1h-1zM74 410h2v1h-2zM104 410h2v1h-2zM175 410h1v1h-1zM206 410h1v1h-1zM241 410h2v1h-2zM72 411h2v1h-2zM106 411h1v1h-1zM175 411h1v1h-1zM207 411h2v1h-2zM239 411h2v1h-2zM70 412h2v1h-2zM107 412h1v1h-1zM175 412h1v1h-1zM209 412h1v1h-1zM238 412h1v1h-1zM69 413h1v1h-1zM108 413h1v1h-1zM174 413h1v1h-1zM210 413h1v1h-1zM236 413h2v1h-2zM68 414h1v1h-1zM109 414h2v1h-2zM174 414h1v1h-1zM211 414h1v1h-1zM235 414h1v1h-1zM67 415h1v1h-1zM111 415h1v1h-1zM173 415h1v1h-1zM212 415h1v1h-1zM234 415h1v1h-1zM57 416h4v1h-4zM66 416h1v1h-1zM112 416h1v1h-1zM173 416h1v1h-1zM213 416h1v1h-1zM234 416h1v1h-1zM52 417h5v1h-5zM61 417h2v1h-2zM65 417h1v1h-1zM113 417h1v1h-1zM173 417h1v1h-1zM214 417h1v1h-1zM233 417h1v1h-1zM48 418h4v1h-4zM63 418h2v1h-2zM114 418h1v1h-1zM172 418h1v1h-1zM215 418h1v1h-1zM233 418h1v1h-1zM46 419h2v1h-2zM115 419h1v1h-1zM172 419h1v1h-1zM216 419h1v1h-1zM232 419h1v1h-1zM44 420h2v1h-2zM116 420h1v1h-1zM171 420h1v1h-1zM217 420h1v1h-1zM231 420h1v1h-1zM42 421h2v1h-2zM117 421h4v1h-4zM171 421h1v1h-1zM218 421h1v1h-1zM231 421h1v1h-1zM40 422h2v1h-2zM121 422h2v1h-2zM170 422h1v1h-1zM219 422h1v1h-1zM230 422h1v1h-1zM123 423h1v1h-1zM170 423h1v1h-1zM220 423h2v1h-2zM228 423h2v1h-2zM124 424h2v1h-2zM139 424h1v1h-1zM169 424h1v1h-1zM222 424h2v1h-2zM226 424h2v1h-2zM126 425h1v1h-1zM137 425h2v1h-2zM140 425h1v1h-1zM168 425h1v1h-1zM224 425h2v1h-2zM127 426h1v1h-1zM136 426h1v1h-1zM141 426h2v1h-2zM168 426h1v1h-1zM128 427h1v1h-1zM135 427h1v1h-1zM143 427h1v1h-1zM167 427h1v1h-1zM129 428h1v1h-1zM133 428h2v1h-2zM144 428h1v1h-1zM166 428h1v1h-1zM130 429h1v1h-1zM132 429h1v1h-1zM144 429h1v1h-1zM166 429h1v1h-1zM131 430h1v1h-1zM145 430h1v1h-1zM165 430h1v1h-1zM145 431h1v1h-1zM154 431h1v1h-1zM164 431h1v1h-1zM146 432h1v1h-1zM154 432h2v1h-2zM163 432h1v1h-1zM146 433h1v1h-1zM153 433h1v1h-1zM156 433h1v1h-1zM162 433h1v1h-1zM146 434h1v1h-1zM153 434h1v1h-1zM157 434h1v1h-1zM161 434h1v1h-1zM147 435h1v1h-1zM152 435h1v1h-1zM158 435h1v1h-1zM160 435h1v1h-1zM147 436h1v1h-1zM152 436h1v1h-1zM159 436h1v1h-1zM147 437h1v1h-1zM151 437h1v1h-1zM148 438h1v1h-1zM151 438h1v1h-1zM148 439h1v1h-1zM150 439h1v1h-1zM149 440h2v1h-2zM149 441h1v1h-1z"/>
<path fill="#0000cc" d="M707 59h2v1h-2zM713 59h3v1h-3zM706 60h1v1h-1zM709 60h4v1h-4zM705 61h1v1h-1zM704 62h1v1h-1zM703 63h1v1h-1zM702 64h1v1h-1zM702 65h1v1h-1zM701 66h1v1h-1zM701 67h1v1h-1zM700 68h1v1h-1zM700 69h1v1h-1zM700 70h1v1h-1zM699 71h1v1h-1zM699 72h1v1h-1zM699 73h1v1h-1zM699 74h1v1h-1zM699 75h1v1h-1zM698 76h1v1h-1zM698 77h1v1h-1zM698 78h1v1h-1zM698 79h1v1h-1zM697 80h1v1h-1zM697 81h1v1h-1zM697 82h1v1h-1zM697 83h1v1h-1zM696 84h1v1h-1zM696 85h1v1h-1zM695 86h1v1h-1zM695 87h1v1h-1zM694 88h1v1h-1zM694 89h1v1h-1zM693 90h1v1h-1zM693 91h1v1h-1zM692 92h1v1h-1zM691 93h1v1h-1zM691 94h1v1h-1zM690 95h1v1h-1zM689 96h1v1h-1zM687 97h2v1h-2zM685 98h2v1h-2zM684 99h1v1h-1zM682 100h2v1h-2zM681 101h1v1h-1zM680 102h1v1h-1zM679 103h1v1h-1zM678 104h1v1h-1zM677 105h1v1h-1zM677 106h1v1h-1zM676 107h1v1h-1zM676 108h1v1h-1zM676 109h1v1h-1zM676 110h1v1h-1zM675 111h1v1h-1zM675 112h1v1h-1zM675 113h1v1h-1zM675 114h1v1h-1zM314 115h1v1h-1zM674 115h1v1h-1zM314 116h1v1h-1zM674 116h1v1h-1zM313 117h1v1h-1zM315 117h1v1h-1zM674 117h1v1h-1zM313 118h1v1h-1zM315 118h1v1h-1zM674 118h1v1h-1zM312 119h1v1h-1zM316 119h1v1h-1zM673 119h1v1h-1zM312 120h1v1h-1zM316 120h1v1h-1zM673 120h1v1h-1zM312 121h1v1h-1zM317 121h1v1h-1zM673 121h1v1h-1zM311 122h1v1h-1zM317 122h1v1h-1zM673 122h1v1h-1zM295 123h2v1h-2zM311 123h1v1h-1zM318 123h1v1h-1zM673 123h1v1h-1zM295 124h1v1h-1zM297 124h2v1h-2zM311 124h1v1h-1zM318 124h1v1h-1zM672 124h1v1h-1zM295 125h1v1h-1zM299 125h2v1h-2zM310 125h1v1h-1zM319 125h1v1h-1zM659 125h1v1h-1zM672 125h1v1h-1zM294 126h1v1h-1zM300 126h1v1h-1zM310 126h1v1h-1zM319 126h1v1h-1zM659 126h2v1h-2zM672 126h1v1h-1zM294 127h1v1h-1zM301 127h1v1h-1zM309 127h1v1h-1zM319 127h1v1h-1zM659 127h1v1h-1zM661 127h1v1h-1zM672 127h1v1h-1zM294 128h1v1h-1zM301 128h1v1h-1zM309 128h1v1h-1zM319 128h1v1h-1zM659 128h1v1h-1zM661 128h1v1h-1zM671 128h1v1h-1zM294 129h1v1h-1zM302 129h1v1h-1zM308 129h1v1h-1zM320 129h1v1h-1zM658 129h1v1h-1zM662 129h1v1h-1zM671 129h1v1h-1zM294 130h1v1h-1zM302 130h1v1h-1zM308 130h1v1h-1zM320 130h1v1h-1zM658 130h1v1h-1zM663 130h1v1h-1zM670 130h1v1h-1zM294 131h1v1h-1zM302 131h1v1h-1zM307 131h1v1h-1zM320 131h1v1h-1zM658 131h1v1h-1zM664 131h1v1h-1zM670 131h1v1h-1zM293 132h1v1h-1zM303 132h1v1h-1zM306 132h1v1h-1zM320 132h1v1h-1zM658 132h1v1h-1zM665 132h2v1h-2zM669 132h1v1h-1zM293 133h1v1h-1zM303 133h1v1h-1zM305 133h1v1h-1zM320 133h1v1h-1zM658 133h1v1h-1zM667 133h1v1h-1zM669 133h1v1h-1zM293 134h1v1h-1zM304 134h2v1h-2zM320 134h1v1h-1zM658 134h1v1h-1zM668 134h1v1h-1zM293 135h1v1h-1zM304 135h1v1h-1zM321 135h1v1h-1zM658 135h1v1h-1zM293 136h1v1h-1zM321 136h1v1h-1zM658 136h1v1h-1zM293 137h1v1h-1zM321 137h1v1h-1zM657 137h1v1h-1zM292 138h1v1h-1zM321 138h1v1h-1zM657 138h1v1h-1zM292 139h1v1h-1zM321 139h1v1h-1zM657 139h1v1h-1zM292 140h1v1h-1zM322 140h1v1h-1zM657 140h1v1h-1zM292 141h1v1h-1zM322 141h1v1h-1zM657 141h1v1h-1zM292 142h1v1h-1zM322 142h1v1h-1zM657 142h1v1h-1zM292 143h1v1h-1zM322 143h1v1h-1zM656 143h1v1h-1zM291 144h1v1h-1zM322 144h1v1h-1zM656 144h1v1h-1zM291 145h1v1h-1zM322 145h1v1h-1zM656 145h1v1h-1zM291 146h1v1h-1zM323 146h1v1h-1zM656 146h1v1h-1zM291 147h1v1h-1zM323 147h1v1h-1zM656 147h1v1h-1zM291 148h1v1h-1zM323 148h1v1h-1zM656 148h1v1h-1zM291 149h1v1h-1zM324 149h1v1h-1zM655 149h1v1h-1zM291 150h1v1h-1zM324 150h1v1h-1zM655 150h1v1h-1zM290 151h1v1h-1zM325 151h1v1h-1zM353 151h6v1h-6zM655 151h1v1h-1zM290 152h1v1h-1zM326 152h1v1h-1zM349 152h4v1h-4zM359 152h4v1h-4zM655 152h1v1h-1zM290 153h1v1h-1zM326 153h1v1h-1zM348 153h1v1h-1zM363 153h1v1h-1zM655 153h1v1h-1zM290 154h1v1h-1zM327 154h1v1h-1zM346 154h2v1h-2zM364 154h1v1h-1zM655 154h1v1h-1zM290 155h1v1h-1zM328 155h1v1h-1zM345 155h1v1h-1zM364 155h1v1h-1zM654 155h1v1h-1zM290 156h1v1h-1zM328 156h1v1h-1zM344 156h1v1h-1zM365 156h1v1h-1zM654 156h1v1h-1zM289 157h1v1h-1zM329 157h1v1h-1zM343 157h1v1h-1zM366 157h1v1h-1zM654 157h1v1h-1zM289 158h1v1h-1zM330 158h1v1h-1zM342 158h1v1h-1zM367 158h1v1h-1zM653 158h1v1h-1zM289 159h1v1h-1zM330 159h1v1h-1zM340 159h2v1h-2zM368 159h1v1h-1zM652 159h1v1h-1zM289 160h1v1h-1zM331 160h1v1h-1zM339 160h1v1h-1zM368 160h1v1h-1zM652 160h1v1h-1zM288 161h1v1h-1zM331 161h1v1h-1zM338 161h1v1h-1zM369 161h1v1h-1zM651 161h1v1h-1zM288 162h1v1h-1zM332 162h1v1h-1zM336 162h2v1h-2zM370 162h1v1h-1zM394 162h1v1h-1zM650 162h1v1h-1zM288 163h1v1h-1zM332 163h1v1h-1zM334 163h2v1h-2zM371 163h1v1h-1zM393 163h1v1h-1zM395 163h1v1h-1zM649 163h1v1h-1zM288 164h1v1h-1zM333 164h1v1h-1zM371 164h1v1h-1zM392 164h1v1h-1zM396 164h1v1h-1zM649 164h1v1h-1zM287 165h1v1h-1zM372 165h1v1h-1zM391 165h1v1h-1zM397 165h2v1h-2zM648 165h1v1h-1zM287 166h1v1h-1zM373 166h1v1h-1zM390 166h1v1h-1zM399 166h1v1h-1zM648 166h1v1h-1zM287 167h1v1h-1zM373 167h1v1h-1zM389 167h1v1h-1zM400 167h1v1h-1zM648 167h1v1h-1zM287 168h1v1h-1zM374 168h1v1h-1zM389 168h1v1h-1zM400 168h1v1h-1zM648 168h1v1h-1zM286 169h1v1h-1zM374 169h1v1h-1zM388 169h1v1h-1zM401 169h1v1h-1zM647 169h1v1h-1zM286 170h1v1h-1zM375 170h1v1h-1zM388 170h1v1h-1zM401 170h1v1h-1zM647 170h1v1h-1zM286 171h1v1h-1zM375 171h1v1h-1zM388 171h1v1h-1zM402 171h1v1h-1zM647 171h1v1h-1zM285 172h1v1h-1zM376 172h1v1h-1zM387 172h1v1h-1zM402 172h1v1h-1zM647 172h1v1h-1zM285 173h1v1h-1zM376 173h1v1h-1zM387 173h1v1h-1zM403 173h1v1h-1zM646 173h1v1h-1zM285 174h1v1h-1zM376 174h1v1h-1zM386 174h1v1h-1zM403 174h1v1h-1zM646 174h1v1h-1zM285 175h1v1h-1zM377 175h1v1h-1zM386 175h1v1h-1zM404 175h1v1h-1zM640 175h1v1h-1zM646 175h1v1h-1zM284 176h1v1h-1zM377 176h1v1h-1zM386 176h1v1h-1zM404 176h1v1h-1zM639 176h1v1h-1zM641 176h1v1h-1zM645 176h1v1h-1zM284 177h1v1h-1zM377 177h1v1h-1zM385 177h1v1h-1zM405 177h1v1h-1zM639 177h1v1h-1zM641 177h1v1h-1zM645 177h1v1h-1zM284 178h1v1h-1zM378 178h1v1h-1zM385 178h1v1h-1zM405 178h1v1h-1zM638 178h1v1h-1zM642 178h1v1h-1zM645 178h1v1h-1zM284 179h1v1h-1zM378 179h1v1h-1zM384 179h1v1h-1zM405 179h1v1h-1zM638 179h1v1h-1zM643 179h1v1h-1zM645 179h1v1h-1zM283 180h1v1h-1zM378 180h1v1h-1zM384 180h1v1h-1zM405 180h1v1h-1zM637 180h1v1h-1zM643 180h2v1h-2zM283 181h1v1h-1zM378 181h1v1h-1zM383 181h1v1h-1zM406 181h1v1h-1zM636 181h1v1h-1zM644 181h1v1h-1zM283 182h1v1h-1zM379 182h1v1h-1zM383 182h1v1h-1zM406 182h1v1h-1zM636 182h1v1h-1zM283 183h1v1h-1zM379 183h1v1h-1zM382 183h1v1h-1zM406 183h1v1h-1zM635 183h1v1h-1zM283 184h1v1h-1zM379 184h1v1h-1zM381 184h1v1h-1zM406 184h1v1h-1zM635 184h1v1h-1zM283 185h1v1h-1zM380 185h2v1h-2zM407 185h1v1h-1zM634 185h1v1h-1zM282 186h1v1h-1zM380 186h1v1h-1zM407 186h1v1h-1zM633 186h1v1h-1zM282 187h1v1h-1zM407 187h1v1h-1zM632 187h1v1h-1zM282 188h1v1h-1zM407 188h1v1h-1zM632 188h1v1h-1zM282 189h1v1h-1zM407 189h1v1h-1zM631 189h1v1h-1zM282 190h1v1h-1zM408 190h1v1h-1zM630 190h1v1h-1zM281 191h1v1h-1zM408 191h1v1h-1zM630 191h1v1h-1zM281 192h1v1h-1zM408 192h2v1h-2zM629 192h1v1h-1zM281 193h1v1h-1zM410 193h2v1h-2zM629 193h1v1h-1zM280 194h1v1h-1zM412 194h2v1h-2zM629 194h1v1h-1zM280 195h1v1h-1zM413 195h1v1h-1zM628 195h1v1h-1zM280 196h1v1h-1zM414 196h1v1h-1zM628 196h1v1h-1zM279 197h1v1h-1zM414 197h1v1h-1zM627 197h1v1h-1zM279 198h1v1h-1zM414 198h1v1h-1zM627 198h1v1h-1zM279 199h1v1h-1zM415 199h1v1h-1zM625 199h2v1h-2zM278 200h1v1h-1zM415 200h1v1h-1zM624 200h1v1h-1zM278 201h1v1h-1zM416 201h1v1h-1zM623 201h1v1h-1zM278 202h1v1h-1zM416 202h1v1h-1zM623 202h1v1h-1zM278 203h1v1h-1zM416 203h1v1h-1zM622 203h1v1h-1zM277 204h1v1h-1zM417 204h1v1h-1zM621 204h1v1h-1zM277 205h1v1h-1zM417 205h1v1h-1zM621 205h1v1h-1zM277 206h1v1h-1zM417 206h1v1h-1zM620 206h1v1h-1zM276 207h1v1h-1zM418 207h1v1h-1zM620 207h1v1h-1zM276 208h1v1h-1zM418 208h1v1h-1zM620 208h1v1h-1zM275 209h1v1h-1zM418 209h1v1h-1zM619 209h1v1h-1zM273 210h2v1h-2zM418 210h1v1h-1zM619 210h1v1h-1zM272 211h1v1h-1zM419 211h1v1h-1zM619 211h1v1h-1zM271 212h1v1h-1zM419 212h1v1h-1zM619 212h1v1h-1zM270 213h1v1h-1zM419 213h1v1h-1zM618 213h1v1h-1zM270 214h1v1h-1zM420 214h1v1h-1zM618 214h1v1h-1zM269 215h1v1h-1zM420 215h1v1h-1zM618 215h1v1h-1zM269 216h1v1h-1zM420 216h1v1h-1zM617 216h1v1h-1zM263 217h1v1h-1zM269 217h1v1h-1zM420 217h1v1h-1zM617 217h1v1h-1zM263 218h2v1h-2zM268 218h1v1h-1zM421 218h1v1h-1zM617 218h1v1h-1zM263 219h1v1h-1zM265 219h1v1h-1zM268 219h1v1h-1zM421 219h1v1h-1zM616 219h1v1h-1zM262 220h1v1h-1zM266 220h2v1h-2zM421 220h1v1h-1zM616 220h1v1h-1zM262 221h1v1h-1zM267 221h1v1h-1zM422 221h1v1h-1zM615 221h1v1h-1zM262 222h1v1h-1zM422 222h1v1h-1zM615 222h1v1h-1zM262 223h1v1h-1zM423 223h1v1h-1zM614 223h1v1h-1zM262 224h1v1h-1zM423 224h1v1h-1zM614 224h1v1h-1zM261 225h1v1h-1zM424 225h1v1h-1zM614 225h1v1h-1zM261 226h1v1h-1zM424 226h1v1h-1zM613 226h1v1h-1zM261 227h1v1h-1zM425 227h1v1h-1zM613 227h1v1h-1zM261 228h1v1h-1zM425 228h1v1h-1zM612 228h1v1h-1zM261 229h1v1h-1zM426 229h1v1h-1zM612 229h1v1h-1zM260 230h1v1h-1zM426 230h1v1h-1zM611 230h1v1h-1zM260 231h1v1h-1zM427 231h1v1h-1zM611 231h1v1h-1zM260 232h1v1h-1zM427 232h1v1h-1zM611 232h1v1h-1zM260 233h1v1h-1zM428 233h1v1h-1zM610 233h1v1h-1zM260 234h1v1h-1zM428 234h1v1h-1zM610 234h1v1h-1zM259 235h1v1h-1zM429 235h1v1h-1zM610 235h1v1h-1zM259 236h1v1h-1zM429 236h1v1h-1zM610 236h1v1h-1zM259 237h1v1h-1zM429 237h1v1h-1zM609 237h1v1h-1zM259 238h1v1h-1zM430 238h1v1h-1zM609 238h1v1h-1zM259 239h1v1h-1zM430 239h1v1h-1zM609 239h1v1h-1zM258 240h1v1h-1zM430 240h1v1h-1zM609 240h1v1h-1zM258 241h1v1h-1zM431 241h1v1h-1zM608 241h1v1h-1zM258 242h1v1h-1zM431 242h1v1h-1zM608 242h1v1h-1zM258 243h1v1h-1zM431 243h1v1h-1zM608 243h1v1h-1zM258 244h1v1h-1zM432 244h1v1h-1zM608 244h1v1h-1zM258 245h1v1h-1zM432 245h1v1h-1zM607 245h1v1h-1zM257 246h1v1h-1zM432 246h1v1h-1zM607 246h1v1h-1zM257 247h1v1h-1zM433 247h1v1h-1zM607 247h1v1h-1zM257 248h1v1h-1zM433 248h1v1h-1zM607 248h1v1h-1zM255 249h2v1h-2zM433 249h1v1h-1zM606 249h1v1h-1zM254 250h1v1h-1zM434 250h1v1h-1zM606 250h1v1h-1zM253 251h1v1h-1zM434 251h1v1h-1zM606 251h1v1h-1zM253 252h1v1h-1zM434 252h1v1h-1zM606 252h1v1h-1zM253 253h1v1h-1zM435 253h1v1h-1zM605 253h1v1h-1zM252 254h1v1h-1zM435 254h1v1h-1zM605 254h1v1h-1zM252 255h1v1h-1zM436 255h1v1h-1zM597 255h1v1h-1zM605 255h1v1h-1zM252 256h1v1h-1zM436 256h1v1h-1zM597 256h1v1h-1zM605 256h1v1h-1zM252 257h1v1h-1zM436 257h1v1h-1zM597 257h2v1h-2zM605 257h1v1h-1zM252 258h1v1h-1zM437 258h1v1h-1zM596 258h1v1h-1zM598 258h1v1h-1zM604 258h1v1h-1zM252 259h1v1h-1zM437 259h1v1h-1zM596 259h1v1h-1zM599 259h1v1h-1zM604 259h1v1h-1zM251 260h1v1h-1zM437 260h1v1h-1zM596 260h1v1h-1zM599 260h1v1h-1zM604 260h1v1h-1zM251 261h1v1h-1zM437 261h1v1h-1zM596 261h1v1h-1zM599 261h1v1h-1zM604 261h1v1h-1zM251 262h1v1h-1zM438 262h1v1h-1zM595 262h1v1h-1zM600 262h1v1h-1zM603 262h1v1h-1zM251 263h1v1h-1zM438 263h1v1h-1zM595 263h1v1h-1zM600 263h1v1h-1zM603 263h1v1h-1zM251 264h1v1h-1zM438 264h1v1h-1zM595 264h1v1h-1zM600 264h1v1h-1zM603 264h1v1h-1zM251 265h1v1h-1zM438 265h1v1h-1zM595 265h1v1h-1zM601 265h1v1h-1zM603 265h1v1h-1zM251 266h1v1h-1zM439 266h1v1h-1zM594 266h1v1h-1zM601 266h2v1h-2zM251 267h1v1h-1zM439 267h1v1h-1zM594 267h1v1h-1zM602 267h1v1h-1zM250 268h1v1h-1zM439 268h1v1h-1zM594 268h1v1h-1zM602 268h1v1h-1zM250 269h1v1h-1zM439 269h1v1h-1zM594 269h1v1h-1zM250 270h1v1h-1zM439 270h1v1h-1zM593 270h1v1h-1zM250 271h1v1h-1zM440 271h1v1h-1zM593 271h1v1h-1zM250 272h1v1h-1zM440 272h1v1h-1zM593 272h1v1h-1zM250 273h1v1h-1zM440 273h1v1h-1zM593 273h1v1h-1zM249 274h1v1h-1zM440 274h1v1h-1zM446 274h6v1h-6zM593 274h1v1h-1zM249 275h1v1h-1zM441 275h1v1h-1zM444 275h2v1h-2zM452 275h1v1h-1zM592 275h1v1h-1zM249 276h1v1h-1zM441 276h3v1h-3zM452 276h1v1h-1zM592 276h1v1h-1zM249 277h1v1h-1zM441 277h1v1h-1zM453 277h1v1h-1zM592 277h1v1h-1zM248 278h1v1h-1zM453 278h1v1h-1zM592 278h1v1h-1zM248 279h1v1h-1zM454 279h1v1h-1zM592 279h1v1h-1zM248 280h1v1h-1zM454 280h1v1h-1zM592 280h1v1h-1zM247 281h1v1h-1zM455 281h1v1h-1zM592 281h1v1h-1zM247 282h1v1h-1zM455 282h1v1h-1zM591 282h1v1h-1zM246 283h1v1h-1zM456 283h1v1h-1zM591 283h1v1h-1zM246 284h1v1h-1zM456 284h1v1h-1zM591 284h1v1h-1zM245 285h1v1h-1zM457 285h1v1h-1zM591 285h1v1h-1zM245 286h1v1h-1zM457 286h1v1h-1zM591 286h1v1h-1zM245 287h1v1h-1zM457 287h1v1h-1zM591 287h1v1h-1zM244 288h1v1h-1zM457 288h1v1h-1zM590 288h1v1h-1zM244 289h1v1h-1zM458 289h1v1h-1zM590 289h1v1h-1zM243 290h1v1h-1zM458 290h1v1h-1zM590 290h1v1h-1zM243 291h1v1h-1zM458 291h1v1h-1zM590 291h1v1h-1zM243 292h1v1h-1zM458 292h1v1h-1zM590 292h1v1h-1zM242 293h1v1h-1zM458 293h1v1h-1zM590 293h1v1h-1zM242 294h1v1h-1zM458 294h1v1h-1zM590 294h1v1h-1zM241 295h1v1h-1zM459 295h1v1h-1zM589 295h1v1h-1zM241 296h1v1h-1zM459 296h1v1h-1zM589 296h1v1h-1zM240 297h1v1h-1zM459 297h1v1h-1zM589 297h1v1h-1zM240 298h1v1h-1zM459 298h1v1h-1zM589 298h1v1h-1zM239 299h1v1h-1zM459 299h1v1h-1zM588 299h1v1h-1zM239 300h1v1h-1zM459 300h1v1h-1zM588 300h1v1h-1zM238 301h1v1h-1zM460 301h1v1h-1zM587 301h1v1h-1zM237 302h1v1h-1zM460 302h1v1h-1zM587 302h1v1h-1zM236 303h1v1h-1zM460 303h1v1h-1zM473 303h2v1h-2zM586 303h1v1h-1zM235 304h1v1h-1zM460 304h1v1h-1zM471 304h2v1h-2zM474 304h1v1h-1zM586 304h1v1h-1zM235 305h1v1h-1zM461 305h2v1h-2zM469 305h2v1h-2zM475 305h1v1h-1zM585 305h1v1h-1zM234 306h1v1h-1zM463 306h2v1h-2zM467 306h2v1h-2zM475 306h1v1h-1zM585 306h1v1h-1zM234 307h1v1h-1zM465 307h2v1h-2zM476 307h1v1h-1zM584 307h1v1h-1zM234 308h1v1h-1zM476 308h1v1h-1zM584 308h1v1h-1zM233 309h1v1h-1zM477 309h1v1h-1zM583 309h1v1h-1zM233 310h1v1h-1zM477 310h1v1h-1zM582 310h1v1h-1zM232 311h1v1h-1zM477 311h1v1h-1zM582 311h1v1h-1zM232 312h1v1h-1zM478 312h1v1h-1zM581 312h1v1h-1zM232 313h1v1h-1zM478 313h1v1h-1zM581 313h1v1h-1zM231 314h1v1h-1zM478 314h1v1h-1zM580 314h1v1h-1zM231 315h1v1h-1zM478 315h1v1h-1zM580 315h1v1h-1zM231 316h1v1h-1zM479 316h1v1h-1zM579 316h1v1h-1zM230 317h1v1h-1zM479 317h1v1h-1zM579 317h1v1h-1zM230 318h1v1h-1zM479 318h1v1h-1zM578 318h1v1h-1zM230 319h1v1h-1zM479 319h1v1h-1zM578 319h1v1h-1zM229 320h1v1h-1zM479 320h1v1h-1zM578 320h1v1h-1zM229 321h1v1h-1zM480 321h1v1h-1zM578 321h1v1h-1zM228 322h1v1h-1zM480 322h1v1h-1zM578 322h1v1h-1zM228 323h1v1h-1zM480 323h1v1h-1zM578 323h1v1h-1zM49 324h1v1h-1zM87 324h1v1h-1zM228 324h1v1h-1zM480 324h1v1h-1zM577 324h1v1h-1zM49 325h2v1h-2zM87 325h2v1h-2zM227 325h1v1h-1zM480 325h1v1h-1zM577 325h1v1h-1zM49 326h1v1h-1zM51 326h1v1h-1zM86 326h1v1h-1zM89 326h1v1h-1zM227 326h1v1h-1zM481 326h1v1h-1zM577 326h1v1h-1zM48 327h1v1h-1zM52 327h1v1h-1zM86 327h1v1h-1zM90 327h1v1h-1zM227 327h1v1h-1zM481 327h1v1h-1zM577 327h1v1h-1zM48 328h1v1h-1zM52 328h1v1h-1zM85 328h1v1h-1zM91 328h1v1h-1zM226 328h1v1h-1zM481 328h1v1h-1zM577 328h1v1h-1zM48 329h1v1h-1zM53 329h1v1h-1zM85 329h1v1h-1zM92 329h1v1h-1zM226 329h1v1h-1zM481 329h1v1h-1zM577 329h1v1h-1zM48 330h1v1h-1zM54 330h1v1h-1zM85 330h1v1h-1zM92 330h1v1h-1zM226 330h1v1h-1zM481 330h1v1h-1zM577 330h1v1h-1zM47 331h1v1h-1zM55 331h1v1h-1zM84 331h1v1h-1zM93 331h1v1h-1zM225 331h1v1h-1zM481 331h1v1h-1zM577 331h1v1h-1zM47 332h1v1h-1zM55 332h1v1h-1zM84 332h1v1h-1zM93 332h1v1h-1zM225 332h1v1h-1zM482 332h1v1h-1zM576 332h1v1h-1zM47 333h1v1h-1zM56 333h1v1h-1zM83 333h1v1h-1zM94 333h1v1h-1zM224 333h1v1h-1zM482 333h1v1h-1zM576 333h1v1h-1zM47 334h1v1h-1zM57 334h1v1h-1zM83 334h1v1h-1zM94 334h1v1h-1zM224 334h1v1h-1zM482 334h1v1h-1zM576 334h1v1h-1zM46 335h1v1h-1zM58 335h1v1h-1zM83 335h1v1h-1zM95 335h1v1h-1zM223 335h1v1h-1zM482 335h1v1h-1zM576 335h1v1h-1zM46 336h1v1h-1zM58 336h1v1h-1zM82 336h1v1h-1zM95 336h1v1h-1zM223 336h1v1h-1zM482 336h1v1h-1zM576 336h1v1h-1zM46 337h1v1h-1zM59 337h7v1h-7zM72 337h2v1h-2zM82 337h1v1h-1zM96 337h1v1h-1zM222 337h1v1h-1zM482 337h1v1h-1zM576 337h1v1h-1zM46 338h1v1h-1zM66 338h2v1h-2zM70 338h2v1h-2zM74 338h1v1h-1zM81 338h1v1h-1zM96 338h1v1h-1zM222 338h1v1h-1zM483 338h1v1h-1zM575 338h1v1h-1zM45 339h1v1h-1zM68 339h2v1h-2zM74 339h1v1h-1zM81 339h1v1h-1zM97 339h1v1h-1zM221 339h1v1h-1zM483 339h1v1h-1zM575 339h1v1h-1zM45 340h1v1h-1zM75 340h1v1h-1zM80 340h1v1h-1zM97 340h1v1h-1zM221 340h1v1h-1zM483 340h1v1h-1zM575 340h1v1h-1zM45 341h1v1h-1zM76 341h1v1h-1zM80 341h1v1h-1zM98 341h1v1h-1zM220 341h1v1h-1zM483 341h1v1h-1zM575 341h1v1h-1zM45 342h1v1h-1zM77 342h1v1h-1zM79 342h1v1h-1zM98 342h1v1h-1zM220 342h1v1h-1zM483 342h1v1h-1zM575 342h1v1h-1zM44 343h1v1h-1zM77 343h1v1h-1zM79 343h1v1h-1zM98 343h1v1h-1zM220 343h1v1h-1zM483 343h1v1h-1zM574 343h1v1h-1zM44 344h1v1h-1zM78 344h1v1h-1zM99 344h1v1h-1zM219 344h1v1h-1zM483 344h1v1h-1zM574 344h1v1h-1zM43 345h1v1h-1zM99 345h1v1h-1zM219 345h1v1h-1zM484 345h1v1h-1zM574 345h1v1h-1zM43 346h1v1h-1zM100 346h1v1h-1zM219 346h1v1h-1zM484 346h1v1h-1zM574 346h1v1h-1zM42 347h1v1h-1zM100 347h1v1h-1zM134 347h1v1h-1zM199 347h2v1h-2zM218 347h1v1h-1zM484 347h1v1h-1zM574 347h1v1h-1zM42 348h1v1h-1zM100 348h1v1h-1zM134 348h1v1h-1zM197 348h2v1h-2zM201 348h1v1h-1zM218 348h1v1h-1zM484 348h1v1h-1zM573 348h1v1h-1zM41 349h1v1h-1zM101 349h1v1h-1zM133 349h1v1h-1zM135 349h1v1h-1zM196 349h1v1h-1zM202 349h1v1h-1zM218 349h1v1h-1zM484 349h1v1h-1zM573 349h1v1h-1zM41 350h1v1h-1zM101 350h1v1h-1zM133 350h1v1h-1zM135 350h1v1h-1zM196 350h1v1h-1zM202 350h1v1h-1zM218 350h1v1h-1zM484 350h1v1h-1zM573 350h1v1h-1zM40 351h1v1h-1zM102 351h1v1h-1zM132 351h1v1h-1zM135 351h1v1h-1zM196 351h1v1h-1zM203 351h1v1h-1zM217 351h1v1h-1zM485 351h1v1h-1zM573 351h1v1h-1zM102 352h1v1h-1zM132 352h1v1h-1zM136 352h1v1h-1zM195 352h1v1h-1zM203 352h1v1h-1zM217 352h1v1h-1zM485 352h1v1h-1zM572 352h1v1h-1zM102 353h1v1h-1zM131 353h1v1h-1zM136 353h1v1h-1zM195 353h1v1h-1zM204 353h1v1h-1zM217 353h1v1h-1zM485 353h1v1h-1zM572 353h1v1h-1zM103 354h1v1h-1zM130 354h1v1h-1zM136 354h1v1h-1zM195 354h1v1h-1zM204 354h1v1h-1zM216 354h1v1h-1zM485 354h1v1h-1zM572 354h1v1h-1zM103 355h1v1h-1zM129 355h1v1h-1zM137 355h1v1h-1zM195 355h1v1h-1zM204 355h1v1h-1zM216 355h1v1h-1zM485 355h1v1h-1zM572 355h1v1h-1zM103 356h1v1h-1zM129 356h1v1h-1zM137 356h1v1h-1zM195 356h1v1h-1zM205 356h1v1h-1zM216 356h1v1h-1zM486 356h1v1h-1zM572 356h1v1h-1zM104 357h1v1h-1zM128 357h1v1h-1zM137 357h1v1h-1zM194 357h1v1h-1zM205 357h1v1h-1zM215 357h1v1h-1zM486 357h1v1h-1zM572 357h1v1h-1zM104 358h1v1h-1zM111 358h1v1h-1zM127 358h1v1h-1zM138 358h1v1h-1zM194 358h1v1h-1zM205 358h1v1h-1zM215 358h1v1h-1zM486 358h1v1h-1zM571 358h1v1h-1zM105 359h1v1h-1zM110 359h1v1h-1zM112 359h1v1h-1zM126 359h1v1h-1zM138 359h1v1h-1zM194 359h1v1h-1zM206 359h1v1h-1zM215 359h1v1h-1zM486 359h1v1h-1zM571 359h1v1h-1zM105 360h1v1h-1zM109 360h1v1h-1zM112 360h1v1h-1zM124 360h2v1h-2zM138 360h1v1h-1zM194 360h1v1h-1zM206 360h1v1h-1zM214 360h1v1h-1zM487 360h1v1h-1zM571 360h1v1h-1zM105 361h1v1h-1zM108 361h1v1h-1zM113 361h1v1h-1zM123 361h1v1h-1zM139 361h1v1h-1zM193 361h1v1h-1zM206 361h1v1h-1zM214 361h1v1h-1zM487 361h1v1h-1zM571 361h1v1h-1zM106 362h2v1h-2zM114 362h1v1h-1zM122 362h1v1h-1zM139 362h1v1h-1zM193 362h1v1h-1zM207 362h1v1h-1zM214 362h1v1h-1zM487 362h1v1h-1zM571 362h1v1h-1zM106 363h1v1h-1zM114 363h1v1h-1zM120 363h2v1h-2zM139 363h1v1h-1zM193 363h1v1h-1zM207 363h1v1h-1zM213 363h1v1h-1zM488 363h1v1h-1zM571 363h1v1h-1zM115 364h1v1h-1zM119 364h1v1h-1zM139 364h1v1h-1zM193 364h1v1h-1zM207 364h1v1h-1zM213 364h1v1h-1zM488 364h1v1h-1zM570 364h1v1h-1zM115 365h1v1h-1zM117 365h2v1h-2zM139 365h1v1h-1zM193 365h1v1h-1zM208 365h1v1h-1zM213 365h1v1h-1zM488 365h1v1h-1zM570 365h1v1h-1zM116 366h1v1h-1zM140 366h1v1h-1zM192 366h1v1h-1zM208 366h1v1h-1zM212 366h1v1h-1zM488 366h1v1h-1zM570 366h1v1h-1zM140 367h1v1h-1zM192 367h1v1h-1zM208 367h1v1h-1zM212 367h1v1h-1zM489 367h1v1h-1zM570 367h1v1h-1zM140 368h1v1h-1zM191 368h2v1h-2zM209 368h1v1h-1zM211 368h1v1h-1zM489 368h1v1h-1zM570 368h1v1h-1zM140 369h1v1h-1zM189 369h2v1h-2zM209 369h1v1h-1zM211 369h1v1h-1zM490 369h1v1h-1zM570 369h1v1h-1zM140 370h1v1h-1zM187 370h2v1h-2zM209 370h1v1h-1zM211 370h1v1h-1zM490 370h1v1h-1zM570 370h1v1h-1zM140 371h1v1h-1zM187 371h1v1h-1zM210 371h1v1h-1zM491 371h1v1h-1zM570 371h1v1h-1zM141 372h1v1h-1zM186 372h1v1h-1zM210 372h1v1h-1zM491 372h1v1h-1zM569 372h1v1h-1zM141 373h1v1h-1zM186 373h1v1h-1zM492 373h1v1h-1zM569 373h1v1h-1zM141 374h1v1h-1zM186 374h1v1h-1zM492 374h1v1h-1zM569 374h1v1h-1zM141 375h1v1h-1zM186 375h1v1h-1zM493 375h1v1h-1zM569 375h1v1h-1zM141 376h1v1h-1zM185 376h1v1h-1zM493 376h1v1h-1zM569 376h1v1h-1zM141 377h1v1h-1zM185 377h1v1h-1zM493 377h1v1h-1zM568 377h1v1h-1zM141 378h1v1h-1zM185 378h1v1h-1zM494 378h1v1h-1zM568 378h1v1h-1zM142 379h1v1h-1zM184 379h1v1h-1zM494 379h1v1h-1zM567 379h1v1h-1zM142 380h1v1h-1zM184 380h1v1h-1zM495 380h1v1h-1zM567 380h1v1h-1zM142 381h1v1h-1zM184 381h1v1h-1zM495 381h1v1h-1zM566 381h1v1h-1zM142 382h1v1h-1zM183 382h1v1h-1zM496 382h1v1h-1zM566 382h1v1h-1zM142 383h1v1h-1zM163 383h1v1h-1zM183 383h1v1h-1zM496 383h1v1h-1zM565 383h1v1h-1zM142 384h1v1h-1zM163 384h2v1h-2zM183 384h1v1h-1zM497 384h1v1h-1zM565 384h1v1h-1zM143 385h1v1h-1zM162 385h1v1h-1zM164 385h1v1h-1zM183 385h1v1h-1zM497 385h1v1h-1zM564 385h1v1h-1zM143 386h1v1h-1zM162 386h1v1h-1zM165 386h1v1h-1zM182 386h1v1h-1zM498 386h1v1h-1zM559 386h6v1h-6zM143 387h1v1h-1zM153 387h1v1h-1zM162 387h1v1h-1zM165 387h1v1h-1zM181 387h2v1h-2zM498 387h1v1h-1zM559 387h1v1h-1zM143 388h1v1h-1zM153 388h1v1h-1zM162 388h1v1h-1zM166 388h1v1h-1zM179 388h2v1h-2zM499 388h1v1h-1zM558 388h1v1h-1zM144 389h1v1h-1zM152 389h1v1h-1zM154 389h1v1h-1zM161 389h1v1h-1zM166 389h1v1h-1zM178 389h1v1h-1zM499 389h1v1h-1zM558 389h1v1h-1zM144 390h1v1h-1zM152 390h1v1h-1zM154 390h1v1h-1zM161 390h1v1h-1zM167 390h1v1h-1zM177 390h1v1h-1zM500 390h1v1h-1zM558 390h1v1h-1zM145 391h1v1h-1zM151 391h1v1h-1zM155 391h1v1h-1zM161 391h1v1h-1zM168 391h1v1h-1zM177 391h1v1h-1zM501 391h1v1h-1zM558 391h1v1h-1zM146 392h1v1h-1zM151 392h1v1h-1zM155 392h1v1h-1zM160 392h1v1h-1zM168 392h1v1h-1zM176 392h1v1h-1zM502 392h2v1h-2zM506 392h2v1h-2zM557 392h1v1h-1zM146 393h1v1h-1zM151 393h1v1h-1zM155 393h1v1h-1zM160 393h1v1h-1zM169 393h1v1h-1zM176 393h1v1h-1zM504 393h2v1h-2zM508 393h1v1h-1zM557 393h1v1h-1zM147 394h1v1h-1zM150 394h1v1h-1zM156 394h1v1h-1zM160 394h1v1h-1zM169 394h1v1h-1zM175 394h1v1h-1zM508 394h1v1h-1zM557 394h1v1h-1zM148 395h1v1h-1zM150 395h1v1h-1zM156 395h1v1h-1zM159 395h1v1h-1zM170 395h1v1h-1zM174 395h1v1h-1zM509 395h1v1h-1zM557 395h1v1h-1zM148 396h2v1h-2zM156 396h1v1h-1zM159 396h1v1h-1zM170 396h1v1h-1zM174 396h1v1h-1zM509 396h1v1h-1zM556 396h1v1h-1zM149 397h1v1h-1zM157 397h1v1h-1zM159 397h1v1h-1zM171 397h1v1h-1zM173 397h1v1h-1zM510 397h1v1h-1zM556 397h1v1h-1zM157 398h1v1h-1zM159 398h1v1h-1zM171 398h1v1h-1zM173 398h1v1h-1zM510 398h1v1h-1zM556 398h1v1h-1zM158 399h1v1h-1zM172 399h1v1h-1zM511 399h1v1h-1zM555 399h1v1h-1zM158 400h1v1h-1zM511 400h1v1h-1zM555 400h1v1h-1zM512 401h1v1h-1zM555 401h1v1h-1zM512 402h1v1h-1zM555 402h1v1h-1zM513 403h1v1h-1zM554 403h1v1h-1zM513 404h1v1h-1zM554 404h1v1h-1zM514 405h1v1h-1zM554 405h1v1h-1zM514 406h1v1h-1zM553 406h1v1h-1zM515 407h1v1h-1zM553 407h1v1h-1zM515 408h1v1h-1zM553 408h1v1h-1zM516 409h1v1h-1zM553 409h1v1h-1zM516 410h1v1h-1zM552 410h1v1h-1zM517 411h3v1h-3zM552 411h1v1h-1zM520 412h3v1h-3zM552 412h1v1h-1zM522 413h1v1h-1zM552 413h1v1h-1zM523 414h1v1h-1zM551 414h1v1h-1zM523 415h1v1h-1zM551 415h1v1h-1zM523 416h1v1h-1zM551 416h1v1h-1zM524 417h1v1h-1zM551 417h1v1h-1zM524 418h1v1h-1zM550 418h1v1h-1zM525 419h1v1h-1zM545 419h3v1h-3zM550 419h1v1h-1zM525 420h1v1h-1zM545 420h1v1h-1zM548 420h3v1h-3zM525 421h1v1h-1zM544 421h1v1h-1zM526 422h1v1h-1zM544 422h1v1h-1zM526 423h1v1h-1zM544 423h1v1h-1zM526 424h1v1h-1zM544 424h1v1h-1zM527 425h1v1h-1zM543 425h1v1h-1zM527 426h1v1h-1zM543 426h1v1h-1zM527 427h1v1h-1zM543 427h1v1h-1zM528 428h1v1h-1zM543 428h1v1h-1zM528 429h1v1h-1zM542 429h1v1h-1zM528 430h1v1h-1zM542 430h1v1h-1zM529 431h1v1h-1zM541 431h1v1h-1zM529 432h1v1h-1zM541 432h1v1h-1zM529 433h1v1h-1zM540 433h1v1h-1zM530 434h1v1h-1zM540 434h1v1h-1zM530 435h1v1h-1zM539 435h1v1h-1zM530 436h1v1h-1zM539 436h1v1h-1zM531 437h1v1h-1zM538 437h1v1h-1zM531 438h1v1h-1zM538 438h1v1h-1zM531 439h1v1h-1zM536 439h2v1h-2zM532 440h1v1h-1zM534 440h2v1h-2zM532 441h2v1h-2z"/>
</g>
<g font-family="Liberation Sans, Arial, sans-serif">
<text x="330.2" y="12" font-size="10" font-weight="bold" fill="#ffffff" textLength="149.50" lengthAdjust="spacingAndGlyphs">Temperatur, Feuchte &amp; Druck</text>
<text x="109.6" y="34" font-size="10.2" fill="#cc0000" stroke="#cc0000" stroke-width="0.1" textLength="69.00" lengthAdjust="spacingAndGlyphs">Temperatur [°C]</text>
<text x="363.2" y="34" font-size="10.2" fill="#0c7c0c" stroke="#0c7c0c" stroke-width="0.1" textLength="69.50" lengthAdjust="spacingAndGlyphs">rel. Feuchte [%]</text>
<text x="625.2" y="34" font-size="10.2" fill="#1414b8" stroke="#1414b8" stroke-width="0.1" textLength="49.50" lengthAdjust="spacingAndGlyphs">Druck [hPa]</text>
<text x="37.6" y="48" font-size="10.2" fill="#cc0000" stroke="#cc0000" stroke-width="0.1" text-anchor="end" textLength="11.44" lengthAdjust="spacingAndGlyphs">°C</text>
<text x="37.4" y="72" font-size="9.8" fill="#cc0000" stroke="#cc0000" stroke-width="0.1" text-anchor="end" textLength="17.06" lengthAdjust="spacingAndGlyphs">11,5</text>
<text x="37.4" y="101" font-size="9.8" fill="#cc0000" stroke="#cc0000" stroke-width="0.1" text-anchor="end" textLength="17.06" lengthAdjust="spacingAndGlyphs">11,0</text>
<text x="37.4" y="130" font-size="9.8" fill="#cc0000" stroke="#cc0000" stroke-width="0.1" text-anchor="end" textLength="17.74" lengthAdjust="spacingAndGlyphs">10,5</text>
<text x="37.4" y="159" font-size="9.8" fill="#cc0000" stroke="#cc0000" stroke-width="0.1" text-anchor="end" textLength="17.74" lengthAdjust="spacingAndGlyphs">10,0</text>
<text x="37.4" y="188" font-size="9.8" fill="#cc0000" stroke="#cc0000" stroke-width="0.1" text-anchor="end" textLength="12.67" lengthAdjust="spacingAndGlyphs">9,5</text>
<text x="37.4" y="217" font-size="9.8" fill="#cc0000" stroke="#cc0000" stroke-width="0.1" text-anchor="end" textLength="12.67" lengthAdjust="spacingAndGlyphs">9,0</text>
<text x="37.4" y="246" font-size="9.8" fill="#cc0000" stroke="#cc0000" stroke-width="0.1" text-anchor="end" textLength="12.67" lengthAdjust="spacingAndGlyphs">8,5</text>
<text x="37.4" y="275" font-size="9.8" fill="#cc0000" stroke="#cc0000" stroke-width="0.1" text-anchor="end" textLength="12.67" lengthAdjust="spacingAndGlyphs">8,0</text>
<text x="37.4" y="304" font-size="9.8" fill="#cc0000" stroke="#cc0000" stroke-width="0.1" text-anchor="end" textLength="12.67" lengthAdjust="spacingAndGlyphs">7,5</text>
<text x="37.4" y="332" font-size="9.8" fill="#cc0000" stroke="#cc0000" stroke-width="0.1" text-anchor="end" textLength="12.67" lengthAdjust="spacingAndGlyphs">7,0</text>
<text x="37.4" y="361" font-size="9.8" fill="#cc0000" stroke="#cc0000" stroke-width="0.1" text-anchor="end" textLength="12.67" lengthAdjust="spacingAndGlyphs">6,5</text>
<text x="37.4" y="390" font-size="9.8" fill="#cc0000" stroke="#cc0000" stroke-width="0.1" text-anchor="end" textLength="12.67" lengthAdjust="spacingAndGlyphs">6,0</text>
<text x="37.4" y="419" font-size="9.8" fill="#cc0000" stroke="#cc0000" stroke-width="0.1" text-anchor="end" textLength="12.67" lengthAdjust="spacingAndGlyphs">5,5</text>
<text x="37.4" y="448" font-size="9.8" fill="#cc0000" stroke="#cc0000" stroke-width="0.1" text-anchor="end" textLength="12.67" lengthAdjust="spacingAndGlyphs">5,0</text>
<text x="725.0" y="48" font-size="9.4" fill="#0c7c0c" stroke="#0c7c0c" stroke-width="0.1" textLength="8.36" lengthAdjust="spacingAndGlyphs">%</text>
<text x="724.6" y="464" font-size="9.8" fill="#0c7c0c" stroke="#0c7c0c" stroke-width="0.1" textLength="5.07" lengthAdjust="spacingAndGlyphs">0</text>
<text x="724.6" y="443" font-size="9.8" fill="#0c7c0c" stroke="#0c7c0c" stroke-width="0.1" textLength="5.07" lengthAdjust="spacingAndGlyphs">5</text>
<text x="724.6" y="422" font-size="9.8" fill="#0c7c0c" stroke="#0c7c0c" stroke-width="0.1" textLength="10.14" lengthAdjust="spacingAndGlyphs">10</text>
<text x="724.6" y="401" font-size="9.8" fill="#0c7c0c" stroke="#0c7c0c" stroke-width="0.1" textLength="10.14" lengthAdjust="spacingAndGlyphs">15</text>
<text x="724.6" y="380" font-size="9.8" fill="#0c7c0c" stroke="#0c7c0c" stroke-width="0.1" textLength="10.14" lengthAdjust="spacingAndGlyphs">20</text>
<text x="724.6" y="359" font-size="9.8" fill="#0c7c0c" stroke="#0c7c0c" stroke-width="0.1" textLength="10.14" lengthAdjust="spacingAndGlyphs">25</text>
<text x="724.6" y="338" font-size="9.8" fill="#0c7c0c" stroke="#0c7c0c" stroke-width="0.1" textLength="10.14" lengthAdjust="spacingAndGlyphs">30</text>
<text x="724.6" y="317" font-size="9.8" fill="#0c7c0c" stroke="#0c7c0c" stroke-width="0.1" textLength="10.14" lengthAdjust="spacingAndGlyphs">35</text>
<text x="724.6" y="296" font-size="9.8" fill="#0c7c0c" stroke="#0c7c0c" stroke-width="0.1" textLength="10.14" lengthAdjust="spacingAndGlyphs">40</text>
<text x="724.6" y="275" font-size="9.8" fill="#0c7c0c" stroke="#0c7c0c" stroke-width="0.1" textLength="10.14" lengthAdjust="spacingAndGlyphs">45</text>
<text x="724.6" y="254" font-size="9.8" fill="#0c7c0c" stroke="#0c7c0c" stroke-width="0.1" textLength="10.14" lengthAdjust="spacingAndGlyphs">50</text>
<text x="724.6" y="233" font-size="9.8" fill="#0c7c0c" stroke="#0c7c0c" stroke-width="0.1" textLength="10.14" lengthAdjust="spacingAndGlyphs">55</text>
<text x="724.6" y="212" font-size="9.8" fill="#0c7c0c" stroke="#0c7c0c" stroke-width="0.1" textLength="10.14" lengthAdjust="spacingAndGlyphs">60</text>
<text x="724.6" y="191" font-size="9.8" fill="#0c7c0c" stroke="#0c7c0c" stroke-width="0.1" textLength="10.14" lengthAdjust="spacingAndGlyphs">65</text>
<text x="724.6" y="170" font-size="9.8" fill="#0c7c0c" stroke="#0c7c0c" stroke-width="0.1" textLength="10.14" lengthAdjust="spacingAndGlyphs">70</text>
<text x="724.6" y="149" font-size="9.8" fill="#0c7c0c" stroke="#0c7c0c" stroke-width="0.1" textLength="10.14" lengthAdjust="spacingAndGlyphs">75</text>
<text x="724.6" y="128" font-size="9.8" fill="#0c7c0c" stroke="#0c7c0c" stroke-width="0.1" textLength="10.14" lengthAdjust="spacingAndGlyphs">80</text>
<text x="724.6" y="107" font-size="9.8" fill="#0c7c0c" stroke="#0c7c0c" stroke-width="0.1" textLength="10.14" lengthAdjust="spacingAndGlyphs">85</text>
<text x="724.6" y="86" font-size="9.8" fill="#0c7c0c" stroke="#0c7c0c" stroke-width="0.1" textLength="10.14" lengthAdjust="spacingAndGlyphs">90</text>
<text x="724.6" y="65" font-size="9.8" fill="#0c7c0c" stroke="#0c7c0c" stroke-width="0.1" textLength="10.14" lengthAdjust="spacingAndGlyphs">95</text>
<text x="764.9" y="48" font-size="9.7" fill="#1414b8" stroke="#1414b8" stroke-width="0.1" textLength="17.26" lengthAdjust="spacingAndGlyphs">hPa</text>
<text x="765.2" y="71" font-size="9.8" fill="#1414b8" stroke="#1414b8" stroke-width="0.1" textLength="22.80" lengthAdjust="spacingAndGlyphs">1.010</text>
<text x="765.2" y="108" font-size="9.8" fill="#1414b8" stroke="#1414b8" stroke-width="0.1" textLength="22.80" lengthAdjust="spacingAndGlyphs">1.009</text>
<text x="765.2" y="146" font-size="9.8" fill="#1414b8" stroke="#1414b8" stroke-width="0.1" textLength="22.80" lengthAdjust="spacingAndGlyphs">1.009</text>
<text x="765.2" y="183" font-size="9.8" fill="#1414b8" stroke="#1414b8" stroke-width="0.1" textLength="22.80" lengthAdjust="spacingAndGlyphs">1.009</text>
<text x="765.2" y="220" font-size="9.8" fill="#1414b8" stroke="#1414b8" stroke-width="0.1" textLength="22.80" lengthAdjust="spacingAndGlyphs">1.009</text>
<text x="765.2" y="258" font-size="9.8" fill="#1414b8" stroke="#1414b8" stroke-width="0.1" textLength="22.80" lengthAdjust="spacingAndGlyphs">1.009</text>
<text x="765.2" y="295" font-size="9.8" fill="#1414b8" stroke="#1414b8" stroke-width="0.1" textLength="22.80" lengthAdjust="spacingAndGlyphs">1.008</text>
<text x="765.2" y="332" font-size="9.8" fill="#1414b8" stroke="#1414b8" stroke-width="0.1" textLength="22.80" lengthAdjust="spacingAndGlyphs">1.008</text>
<text x="765.2" y="369" font-size="9.8" fill="#1414b8" stroke="#1414b8" stroke-width="0.1" textLength="22.80" lengthAdjust="spacingAndGlyphs">1.008</text>
<text x="765.2" y="406" font-size="9.8" fill="#1414b8" stroke="#1414b8" stroke-width="0.1" textLength="22.80" lengthAdjust="spacingAndGlyphs">1.008</text>
<text x="765.2" y="443" font-size="9.8" fill="#1414b8" stroke="#1414b8" stroke-width="0.1" textLength="22.80" lengthAdjust="spacingAndGlyphs">1.008</text>
<text x="38.9" y="477" font-size="9.8" fill="#000" stroke="#000" stroke-width="0.1" text-anchor="middle" textLength="22.56" lengthAdjust="spacingAndGlyphs">00:00</text>
<text x="37.3" y="492" font-size="9.8" fill="#000" stroke="#000" stroke-width="0.1" text-anchor="middle" textLength="36.24" lengthAdjust="spacingAndGlyphs">17.03.26</text>
<text x="123.9" y="477" font-size="9.8" fill="#000" stroke="#000" stroke-width="0.1" text-anchor="middle" textLength="22.56" lengthAdjust="spacingAndGlyphs">03:00</text>
<text x="122.3" y="492" font-size="9.8" fill="#000" stroke="#000" stroke-width="0.1" text-anchor="middle" textLength="36.24" lengthAdjust="spacingAndGlyphs">17.03.26</text>
<text x="208.9" y="477" font-size="9.8" fill="#000" stroke="#000" stroke-width="0.1" text-anchor="middle" textLength="22.56" lengthAdjust="spacingAndGlyphs">06:00</text>
<text x="207.3" y="492" font-size="9.8" fill="#000" stroke="#000" stroke-width="0.1" text-anchor="middle" textLength="36.24" lengthAdjust="spacingAndGlyphs">17.03.26</text>
<text x="293.9" y="477" font-size="9.8" fill="#000" stroke="#000" stroke-width="0.1" text-anchor="middle" textLength="22.56" lengthAdjust="spacingAndGlyphs">09:00</text>
<text x="292.3" y="492" font-size="9.8" fill="#000" stroke="#000" stroke-width="0.1" text-anchor="middle" textLength="36.24" lengthAdjust="spacingAndGlyphs">17.03.26</text>
<text x="378.9" y="477" font-size="9.8" fill="#000" stroke="#000" stroke-width="0.1" text-anchor="middle" textLength="22.56" lengthAdjust="spacingAndGlyphs">12:00</text>
<text x="377.3" y="492" font-size="9.8" fill="#000" stroke="#000" stroke-width="0.1" text-anchor="middle" textLength="36.24" lengthAdjust="spacingAndGlyphs">17.03.26</text>
<text x="463.9" y="477" font-size="9.8" fill="#000" stroke="#000" stroke-width="0.1" text-anchor="middle" textLength="22.56" lengthAdjust="spacingAndGlyphs">15:00</text>
<text x="462.3" y="492" font-size="9.8" fill="#000" stroke="#000" stroke-width="0.1" text-anchor="middle" textLength="36.24" lengthAdjust="spacingAndGlyphs">17.03.26</text>
<text x="548.9" y="477" font-size="9.8" fill="#000" stroke="#000" stroke-width="0.1" text-anchor="middle" textLength="22.56" lengthAdjust="spacingAndGlyphs">18:00</text>
<text x="547.3" y="492" font-size="9.8" fill="#000" stroke="#000" stroke-width="0.1" text-anchor="middle" textLength="36.24" lengthAdjust="spacingAndGlyphs">17.03.26</text>
<text x="633.9" y="477" font-size="9.8" fill="#000" stroke="#000" stroke-width="0.1" text-anchor="middle" textLength="22.56" lengthAdjust="spacingAndGlyphs">21:00</text>
<text x="632.3" y="492" font-size="9.8" fill="#000" stroke="#000" stroke-width="0.1" text-anchor="middle" textLength="36.24" lengthAdjust="spacingAndGlyphs">17.03.26</text>
<text x="718.9" y="477" font-size="9.8" fill="#000" stroke="#000" stroke-width="0.1" text-anchor="middle" textLength="22.56" lengthAdjust="spacingAndGlyphs">00:00</text>
<text x="717.3" y="492" font-size="9.8" fill="#000" stroke="#000" stroke-width="0.1" text-anchor="middle" textLength="36.24" lengthAdjust="spacingAndGlyphs">18.03.26</text>
</g>
</svg>
</body></html>
